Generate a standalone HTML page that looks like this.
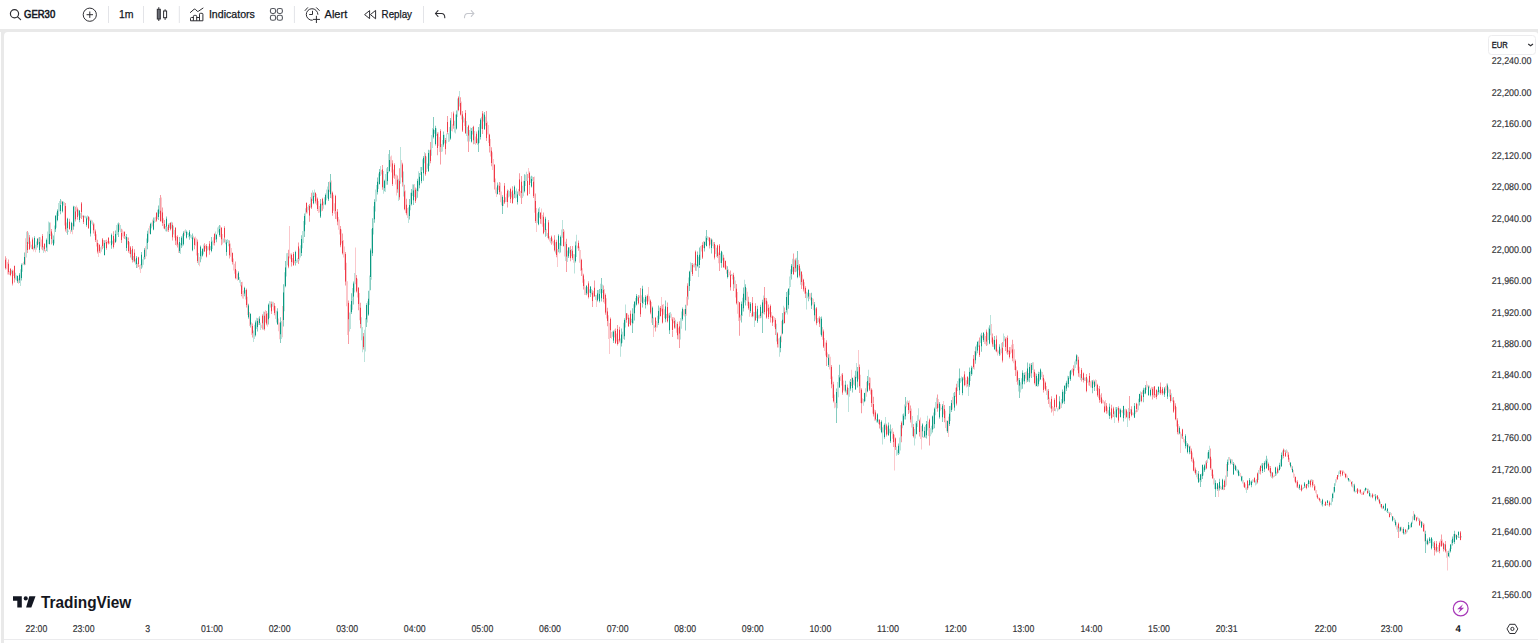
<!DOCTYPE html>
<html><head><meta charset="utf-8"><title>GER30</title>
<style>html,body{margin:0;padding:0;background:#fff;width:1538px;height:643px;overflow:hidden;font-family:"Liberation Sans",sans-serif}</style>
</head><body>
<svg width="1538" height="643" viewBox="0 0 1538 643" style="position:absolute;left:0;top:0" font-family="Liberation Sans, sans-serif">
<rect x="0" y="0" width="1538" height="643" fill="#fff"/>
<rect x="0" y="29" width="1538" height="3" fill="#e9e9e9"/>
<path d="M1 32 H8 A4 4 0 0 0 4 36 V643 H1 Z" fill="#e9e9e9"/>
<path d="M1538 32 V35 A3 3 0 0 0 1535 32 Z" fill="#e9e9e9"/>
<rect x="4" y="639" width="1534" height="1" fill="#ebebed"/>
<g>
<path d="M11 270.1h1v1.8h-1zM11 272.0h1v1.8h-1zM15 272.7h1v3.5h-1zM15 276.2h1v3.5h-1zM16 275.3h1v2.6h-1zM16 277.9h1v2.6h-1zM20 269.3h1v7.8h-1zM20 277.1h1v8.9h-1zM22 263.2h1v4.2h-1zM22 267.5h1v4.2h-1zM26 231.8h1v12.8h-1zM26 244.7h1v12.8h-1zM28 232.4h1v5.8h-1zM28 238.2h1v5.8h-1zM31 244.7h1v2.1h-1zM31 246.8h1v2.1h-1zM36 241.4h1v4.2h-1zM36 245.6h1v4.2h-1zM43 246.3h1v3.3h-1zM43 249.6h1v3.3h-1zM47 231.5h1v10.1h-1zM47 241.6h1v10.1h-1zM48 221.5h1v11.2h-1zM48 232.7h1v11.2h-1zM52 233.6h1v4.8h-1zM52 238.4h1v4.8h-1zM54 225.6h1v9.0h-1zM54 234.6h1v9.0h-1zM56 212.4h1v7.7h-1zM56 220.1h1v7.7h-1zM58 202.9h1v6.6h-1zM58 209.5h1v6.6h-1zM59 200.9h1v5.3h-1zM59 206.2h1v5.3h-1zM63 201.6h1v2.0h-1zM63 203.6h1v2.0h-1zM68 230.5h1v0.8h-1zM68 231.3h1v0.8h-1zM74 206.0h1v10.6h-1zM74 216.6h1v9.8h-1zM78 209.4h1v3.1h-1zM78 212.5h1v3.1h-1zM80 212.9h1v2.6h-1zM80 215.5h1v2.6h-1zM82 215.6h1v0.8h-1zM82 216.4h1v0.8h-1zM84 215.7h1v0.9h-1zM84 216.6h1v0.9h-1zM85 215.7h1v1.3h-1zM85 217.0h1v1.3h-1zM87 215.3h1v2.0h-1zM87 217.4h1v2.0h-1zM92 220.5h1v2.4h-1zM92 222.9h1v2.4h-1zM101 245.7h1v3.0h-1zM101 248.7h1v3.0h-1zM110 241.5h1v0.6h-1zM110 242.2h1v0.6h-1zM112 240.8h1v1.5h-1zM112 242.3h1v1.5h-1zM116 225.1h1v8.2h-1zM116 233.3h1v8.2h-1zM117 223.2h1v5.8h-1zM117 229.1h1v5.8h-1zM120 225.1h1v3.6h-1zM120 228.6h1v3.6h-1zM125 236.1h1v1.7h-1zM125 237.8h1v1.7h-1zM131 250.0h1v4.7h-1zM131 254.7h1v4.7h-1zM133 256.1h1v2.8h-1zM133 259.0h1v2.8h-1zM135 259.2h1v2.8h-1zM135 262.0h1v2.8h-1zM142 259.2h1v4.1h-1zM142 263.3h1v4.1h-1zM143 256.8h1v4.0h-1zM143 260.8h1v4.0h-1zM146 238.5h1v8.9h-1zM146 247.4h1v8.9h-1zM148 228.3h1v6.7h-1zM148 235.1h1v6.7h-1zM151 222.5h1v2.9h-1zM151 225.4h1v2.9h-1zM154 217.5h1v2.7h-1zM154 220.2h1v2.7h-1zM157 209.7h1v4.7h-1zM157 214.4h1v4.7h-1zM159 198.0h1v7.9h-1zM159 205.9h1v7.9h-1zM165 225.9h1v2.7h-1zM165 228.6h1v2.7h-1zM169 223.0h1v2.4h-1zM169 225.5h1v2.4h-1zM171 221.8h1v3.4h-1zM171 225.1h1v3.4h-1zM173 225.8h1v4.3h-1zM173 230.1h1v4.3h-1zM180 243.1h1v5.5h-1zM180 248.6h1v5.5h-1zM182 234.3h1v6.1h-1zM182 240.4h1v6.1h-1zM185 229.2h1v2.0h-1zM185 231.1h1v2.0h-1zM187 231.8h1v1.6h-1zM187 233.4h1v1.6h-1zM188 233.0h1v2.1h-1zM188 235.2h1v2.1h-1zM190 234.2h1v1.8h-1zM190 236.0h1v1.8h-1zM191 235.0h1v1.9h-1zM191 236.9h1v1.9h-1zM198 252.9h1v5.0h-1zM198 257.9h1v7.1h-1zM201 251.2h1v4.1h-1zM201 255.2h1v4.1h-1zM203 244.4h1v5.0h-1zM203 249.3h1v5.0h-1zM207 246.2h1v2.1h-1zM207 248.3h1v2.1h-1zM210 246.1h1v1.9h-1zM210 248.0h1v1.9h-1zM212 240.4h1v4.3h-1zM212 244.7h1v4.3h-1zM215 231.6h1v4.1h-1zM215 235.7h1v4.1h-1zM217 227.4h1v3.4h-1zM217 230.8h1v3.4h-1zM218 226.2h1v3.1h-1zM218 229.4h1v3.1h-1zM223 238.6h1v2.0h-1zM223 240.5h1v2.3h-1zM225 239.2h1v2.5h-1zM225 241.7h1v2.5h-1zM227 239.1h1v2.0h-1zM227 241.0h1v2.0h-1zM228 240.0h1v3.2h-1zM228 243.2h1v3.0h-1zM239 277.1h1v2.8h-1zM239 279.9h1v2.8h-1zM240 279.8h1v3.2h-1zM240 283.0h1v3.2h-1zM245 290.0h1v6.3h-1zM245 296.3h1v3.3h-1zM253 330.4h1v2.0h-1zM253 332.3h1v9.7h-1zM254 324.7h1v7.2h-1zM254 331.9h1v7.2h-1zM256 317.8h1v5.6h-1zM256 323.4h1v5.6h-1zM260 322.8h1v3.6h-1zM260 326.5h1v3.6h-1zM263 311.4h1v9.2h-1zM263 320.6h1v9.2h-1zM269 301.1h1v8.5h-1zM269 309.6h1v8.5h-1zM270 301.5h1v3.4h-1zM270 304.9h1v2.6h-1zM272 301.8h1v2.5h-1zM272 304.3h1v2.5h-1zM276 310.8h1v5.9h-1zM276 316.7h1v5.9h-1zM281 320.9h1v9.1h-1zM281 330.0h1v9.1h-1zM284 272.3h1v19.5h-1zM284 291.7h1v19.5h-1zM286 253.2h1v11.6h-1zM286 264.8h1v11.6h-1zM287 253.0h1v6.1h-1zM287 259.1h1v6.1h-1zM296 259.7h1v1.6h-1zM296 261.3h1v1.6h-1zM297 258.2h1v2.1h-1zM297 260.3h1v2.1h-1zM299 248.5h1v6.0h-1zM299 254.4h1v6.0h-1zM300 245.2h1v6.1h-1zM300 251.3h1v6.1h-1zM302 231.1h1v8.6h-1zM302 239.7h1v8.6h-1zM303 220.9h1v11.0h-1zM303 231.9h1v11.0h-1zM305 208.2h1v8.2h-1zM305 216.5h1v8.2h-1zM308 204.9h1v2.7h-1zM308 207.6h1v2.7h-1zM310 197.0h1v5.3h-1zM310 202.4h1v5.3h-1zM312 190.3h1v5.3h-1zM312 195.6h1v5.3h-1zM314 189.6h1v4.1h-1zM314 193.7h1v3.4h-1zM323 201.6h1v3.6h-1zM323 205.2h1v3.6h-1zM324 197.2h1v3.8h-1zM324 201.0h1v3.8h-1zM326 189.6h1v5.3h-1zM326 194.9h1v5.3h-1zM327 186.5h1v5.9h-1zM327 192.4h1v5.9h-1zM349 312.4h1v9.5h-1zM349 321.9h1v9.5h-1zM350 304.6h1v12.3h-1zM350 316.8h1v12.3h-1zM352 287.9h1v10.9h-1zM352 298.9h1v10.9h-1zM354 273.1h1v9.7h-1zM354 282.8h1v9.7h-1zM361 317.2h1v11.5h-1zM361 328.8h1v11.5h-1zM362 327.1h1v12.6h-1zM362 339.7h1v12.6h-1zM364 329.8h1v10.8h-1zM364 340.6h1v21.4h-1zM365 318.0h1v16.8h-1zM365 334.7h1v16.8h-1zM367 301.3h1v10.6h-1zM367 312.0h1v10.6h-1zM369 275.4h1v14.8h-1zM369 290.2h1v14.8h-1zM371 228.9h1v25.5h-1zM371 254.3h1v25.5h-1zM373 206.3h1v14.0h-1zM373 220.4h1v14.0h-1zM375 189.6h1v11.0h-1zM375 200.6h1v11.0h-1zM376 184.9h1v8.4h-1zM376 193.2h1v8.4h-1zM378 173.6h1v7.8h-1zM378 181.3h1v7.8h-1zM380 166.1h1v4.9h-1zM380 171.0h1v4.9h-1zM383 171.0h1v9.5h-1zM383 180.5h1v13.3h-1zM385 174.0h1v9.0h-1zM385 183.0h1v9.0h-1zM386 168.3h1v8.2h-1zM386 176.5h1v8.2h-1zM388 153.9h1v9.6h-1zM388 163.6h1v9.6h-1zM398 178.8h1v8.4h-1zM398 187.2h1v13.8h-1zM400 147.0h1v25.9h-1zM400 172.9h1v10.8h-1zM403 171.5h1v12.5h-1zM403 184.1h1v12.5h-1zM408 207.2h1v4.4h-1zM408 211.6h1v11.4h-1zM410 192.8h1v8.7h-1zM410 201.5h1v8.7h-1zM412 184.3h1v5.8h-1zM412 190.1h1v5.8h-1zM416 188.6h1v3.4h-1zM416 192.0h1v7.4h-1zM418 171.2h1v10.2h-1zM418 181.4h1v10.2h-1zM420 167.0h1v4.1h-1zM420 171.0h1v4.1h-1zM422 159.2h1v5.5h-1zM422 164.7h1v5.5h-1zM424 152.0h1v7.4h-1zM424 159.4h1v3.8h-1zM426 156.4h1v6.5h-1zM426 162.9h1v9.1h-1zM427 163.5h1v2.6h-1zM427 166.1h1v2.6h-1zM429 150.3h1v7.8h-1zM429 158.1h1v7.8h-1zM431 135.1h1v10.3h-1zM431 145.4h1v10.3h-1zM432 128.0h1v9.9h-1zM432 138.0h1v9.9h-1zM434 130.0h1v1.9h-1zM434 131.9h1v1.9h-1zM436 128.3h1v3.8h-1zM436 132.1h1v3.8h-1zM441 144.0h1v3.0h-1zM441 147.0h1v5.0h-1zM442 140.0h1v5.8h-1zM442 145.8h1v5.8h-1zM444 134.7h1v4.7h-1zM444 139.4h1v3.8h-1zM446 133.6h1v5.0h-1zM446 138.5h1v5.0h-1zM448 132.9h1v4.1h-1zM448 137.0h1v5.0h-1zM449 126.9h1v7.4h-1zM449 134.2h1v7.4h-1zM454 120.7h1v5.9h-1zM454 126.7h1v5.9h-1zM455 114.5h1v9.5h-1zM455 124.0h1v9.5h-1zM457 98.5h1v9.3h-1zM457 107.8h1v9.3h-1zM459 91.0h1v12.6h-1zM459 103.6h1v2.8h-1zM463 116.6h1v3.0h-1zM463 119.6h1v3.0h-1zM466 121.0h1v7.5h-1zM466 128.5h1v7.5h-1zM467 127.1h1v7.2h-1zM467 134.4h1v7.2h-1zM469 130.1h1v5.7h-1zM469 135.8h1v5.7h-1zM470 127.4h1v5.8h-1zM470 133.2h1v5.8h-1zM472 127.0h1v4.9h-1zM472 131.9h1v2.7h-1zM474 130.9h1v6.6h-1zM474 137.5h1v6.6h-1zM477 138.5h1v3.3h-1zM477 141.7h1v3.3h-1zM479 123.9h1v9.5h-1zM479 133.4h1v9.5h-1zM481 116.7h1v6.0h-1zM481 122.7h1v6.0h-1zM483 113.6h1v5.4h-1zM483 119.0h1v2.5h-1zM505 197.3h1v2.4h-1zM505 199.7h1v2.4h-1zM508 189.9h1v3.8h-1zM508 193.7h1v3.8h-1zM509 190.9h1v2.8h-1zM509 193.6h1v2.8h-1zM511 191.7h1v2.9h-1zM511 194.6h1v2.9h-1zM515 190.8h1v3.9h-1zM515 194.7h1v3.9h-1zM516 188.6h1v4.6h-1zM516 193.2h1v4.6h-1zM522 185.8h1v6.1h-1zM522 191.9h1v6.1h-1zM523 180.8h1v7.7h-1zM523 188.5h1v7.7h-1zM525 174.8h1v5.6h-1zM525 180.4h1v5.6h-1zM526 171.7h1v4.7h-1zM526 176.4h1v4.7h-1zM530 176.6h1v3.2h-1zM530 179.8h1v3.2h-1zM532 176.4h1v2.3h-1zM532 178.8h1v2.3h-1zM537 213.3h1v4.9h-1zM537 218.1h1v4.9h-1zM539 207.0h1v7.2h-1zM539 214.2h1v3.6h-1zM547 233.0h1v2.6h-1zM547 235.5h1v2.6h-1zM550 238.1h1v2.6h-1zM550 240.7h1v2.6h-1zM555 242.3h1v5.6h-1zM555 247.9h1v5.6h-1zM559 242.9h1v5.3h-1zM559 248.3h1v5.3h-1zM561 229.5h1v8.2h-1zM561 237.7h1v8.2h-1zM562 220.0h1v15.6h-1zM562 235.6h1v2.2h-1zM565 241.8h1v9.6h-1zM565 251.5h1v9.6h-1zM567 250.6h1v5.7h-1zM567 256.3h1v5.7h-1zM569 247.3h1v3.7h-1zM569 251.0h1v2.6h-1zM571 248.9h1v3.7h-1zM571 252.5h1v3.7h-1zM574 254.3h1v2.9h-1zM574 257.2h1v16.2h-1zM576 234.8h1v14.8h-1zM576 249.6h1v7.5h-1zM587 287.1h1v3.6h-1zM587 290.7h1v3.6h-1zM589 289.3h1v1.7h-1zM589 291.0h1v1.7h-1zM591 289.1h1v2.7h-1zM591 291.7h1v2.7h-1zM595 295.0h1v2.5h-1zM595 297.5h1v2.5h-1zM598 289.9h1v4.4h-1zM598 294.3h1v4.4h-1zM600 283.7h1v4.9h-1zM600 288.6h1v4.9h-1zM602 284.5h1v4.2h-1zM602 288.7h1v4.2h-1zM612 331.2h1v2.8h-1zM612 334.0h1v2.8h-1zM620 338.6h1v2.8h-1zM620 341.4h1v15.4h-1zM622 331.7h1v5.5h-1zM622 337.2h1v5.5h-1zM623 322.7h1v8.1h-1zM623 330.8h1v8.1h-1zM625 304.5h1v15.9h-1zM625 320.4h1v7.0h-1zM629 317.8h1v3.2h-1zM629 320.9h1v3.2h-1zM631 318.8h1v1.8h-1zM631 320.7h1v1.8h-1zM633 304.2h1v9.6h-1zM633 313.8h1v9.6h-1zM635 298.1h1v4.7h-1zM635 302.8h1v4.7h-1zM637 296.5h1v2.1h-1zM637 298.6h1v2.1h-1zM639 295.5h1v1.3h-1zM639 296.8h1v1.3h-1zM643 297.3h1v3.3h-1zM643 300.6h1v3.3h-1zM644 299.3h1v1.4h-1zM644 300.7h1v1.4h-1zM646 296.2h1v2.7h-1zM646 298.9h1v2.7h-1zM654 325.2h1v1.3h-1zM654 326.6h1v1.3h-1zM657 315.8h1v5.8h-1zM657 321.7h1v5.8h-1zM659 307.6h1v5.8h-1zM659 313.4h1v5.8h-1zM666 313.9h1v2.1h-1zM666 316.0h1v2.1h-1zM670 312.1h1v2.8h-1zM670 314.9h1v2.8h-1zM675 319.8h1v4.3h-1zM675 324.2h1v4.3h-1zM680 317.9h1v10.8h-1zM680 328.7h1v10.8h-1zM681 311.4h1v8.7h-1zM681 320.1h1v8.7h-1zM688 277.4h1v11.1h-1zM688 288.4h1v11.1h-1zM690 262.3h1v9.3h-1zM690 271.6h1v9.3h-1zM691 263.0h1v4.5h-1zM691 267.5h1v4.5h-1zM694 263.2h1v2.2h-1zM694 265.4h1v2.2h-1zM696 264.0h1v3.5h-1zM696 267.5h1v3.5h-1zM698 256.8h1v6.3h-1zM698 263.1h1v13.9h-1zM700 246.0h1v7.0h-1zM700 253.0h1v7.0h-1zM705 236.3h1v4.4h-1zM705 240.7h1v4.4h-1zM707 236.3h1v1.8h-1zM707 238.1h1v1.8h-1zM713 242.0h1v3.2h-1zM713 245.2h1v3.2h-1zM716 247.7h1v4.6h-1zM716 252.3h1v4.6h-1zM720 253.3h1v4.9h-1zM720 258.2h1v4.9h-1zM722 252.3h1v4.1h-1zM722 256.4h1v4.1h-1zM731 274.0h1v1.0h-1zM731 275.0h1v1.0h-1zM734 276.7h1v5.8h-1zM734 282.5h1v5.8h-1zM742 297.7h1v9.1h-1zM742 306.9h1v9.1h-1zM744 279.7h1v16.2h-1zM744 295.9h1v6.5h-1zM753 311.7h1v2.3h-1zM753 314.1h1v2.3h-1zM754 312.0h1v2.3h-1zM754 314.3h1v12.7h-1zM756 311.4h1v3.3h-1zM756 314.6h1v3.3h-1zM763 295.4h1v9.2h-1zM763 304.6h1v9.2h-1zM776 323.7h1v8.8h-1zM776 332.6h1v8.8h-1zM779 337.8h1v4.5h-1zM779 342.3h1v14.5h-1zM783 305.8h1v12.3h-1zM783 318.1h1v6.1h-1zM785 311.2h1v1.6h-1zM785 312.8h1v1.6h-1zM787 290.8h1v11.9h-1zM787 302.7h1v11.9h-1zM789 276.6h1v9.2h-1zM789 285.9h1v9.2h-1zM790 269.3h1v8.8h-1zM790 278.2h1v8.8h-1zM792 258.7h1v6.5h-1zM792 265.3h1v6.5h-1zM794 259.5h1v6.2h-1zM794 265.6h1v6.2h-1zM796 257.8h1v6.8h-1zM796 264.6h1v6.8h-1zM800 268.5h1v4.8h-1zM800 273.3h1v11.4h-1zM806 291.7h1v2.5h-1zM806 294.2h1v15.3h-1zM807 292.8h1v2.7h-1zM807 295.5h1v2.7h-1zM817 317.9h1v2.6h-1zM817 320.5h1v2.6h-1zM820 316.9h1v6.6h-1zM820 323.5h1v10.9h-1zM837 382.0h1v13.1h-1zM837 395.1h1v13.1h-1zM838 375.1h1v11.1h-1zM838 386.2h1v11.1h-1zM846 389.7h1v2.6h-1zM846 392.3h1v2.6h-1zM848 387.9h1v3.2h-1zM848 391.1h1v20.9h-1zM849 380.8h1v8.0h-1zM849 388.8h1v8.0h-1zM853 379.7h1v2.1h-1zM853 381.8h1v2.9h-1zM856 362.9h1v7.7h-1zM856 370.6h1v7.7h-1zM863 399.0h1v3.4h-1zM863 402.4h1v3.4h-1zM865 388.3h1v6.4h-1zM865 394.8h1v6.4h-1zM868 369.8h1v12.4h-1zM868 382.2h1v3.4h-1zM876 418.9h1v1.8h-1zM876 420.8h1v1.8h-1zM878 419.5h1v2.4h-1zM878 421.9h1v2.0h-1zM882 427.2h1v1.2h-1zM882 428.4h1v16.0h-1zM885 417.0h1v10.5h-1zM885 427.5h1v2.2h-1zM889 428.7h1v2.2h-1zM889 431.0h1v2.2h-1zM891 429.2h1v2.1h-1zM891 431.3h1v2.1h-1zM896 446.6h1v4.6h-1zM896 451.2h1v4.6h-1zM897 449.8h1v2.0h-1zM897 451.7h1v2.7h-1zM899 437.4h1v8.3h-1zM899 445.7h1v8.3h-1zM900 425.1h1v12.7h-1zM900 437.8h1v12.7h-1zM902 414.2h1v7.0h-1zM902 421.3h1v7.0h-1zM904 404.5h1v7.4h-1zM904 412.0h1v7.4h-1zM907 400.3h1v2.1h-1zM907 402.5h1v2.1h-1zM912 416.1h1v9.9h-1zM912 426.0h1v9.9h-1zM914 428.9h1v3.3h-1zM914 432.2h1v13.4h-1zM915 422.5h1v8.0h-1zM915 430.5h1v8.0h-1zM917 415.2h1v5.9h-1zM917 421.1h1v5.9h-1zM918 408.3h1v11.7h-1zM918 420.0h1v1.0h-1zM925 425.1h1v6.5h-1zM925 431.6h1v6.5h-1zM927 415.8h1v13.0h-1zM927 428.8h1v1.8h-1zM930 428.2h1v4.0h-1zM930 432.2h1v4.0h-1zM931 425.7h1v4.3h-1zM931 430.0h1v4.3h-1zM933 412.6h1v8.2h-1zM933 420.7h1v8.2h-1zM935 402.1h1v6.6h-1zM935 408.7h1v6.6h-1zM936 397.8h1v5.6h-1zM936 403.4h1v5.6h-1zM941 407.7h1v0.8h-1zM941 408.5h1v0.8h-1zM950 405.7h1v7.7h-1zM950 413.4h1v7.7h-1zM953 393.1h1v5.7h-1zM953 398.8h1v5.7h-1zM957 380.9h1v5.1h-1zM957 386.0h1v5.1h-1zM958 378.4h1v4.4h-1zM958 382.8h1v4.4h-1zM960 377.9h1v2.6h-1zM960 380.5h1v2.6h-1zM961 376.3h1v2.6h-1zM961 378.9h1v2.6h-1zM968 377.7h1v5.0h-1zM968 382.6h1v13.3h-1zM970 370.8h1v5.1h-1zM970 376.0h1v5.1h-1zM972 366.7h1v3.9h-1zM972 370.6h1v3.9h-1zM976 344.4h1v5.5h-1zM976 350.0h1v5.5h-1zM978 340.4h1v3.3h-1zM978 343.6h1v3.3h-1zM980 334.6h1v4.2h-1zM980 338.8h1v4.2h-1zM987 332.8h1v6.2h-1zM987 339.1h1v6.2h-1zM988 327.4h1v6.3h-1zM988 333.7h1v6.3h-1zM990 315.0h1v17.1h-1zM990 332.1h1v3.2h-1zM995 344.2h1v3.5h-1zM995 347.7h1v3.5h-1zM1001 342.9h1v5.2h-1zM1001 348.1h1v5.2h-1zM1003 333.6h1v8.8h-1zM1003 342.4h1v4.4h-1zM1004 335.9h1v2.7h-1zM1004 338.6h1v2.7h-1zM1018 378.0h1v6.8h-1zM1018 384.8h1v6.8h-1zM1020 382.3h1v5.1h-1zM1020 387.3h1v5.1h-1zM1021 378.3h1v5.6h-1zM1021 383.9h1v5.6h-1zM1023 373.0h1v4.3h-1zM1023 377.3h1v4.3h-1zM1028 372.9h1v4.3h-1zM1028 377.2h1v4.3h-1zM1032 362.2h1v5.6h-1zM1032 367.8h1v2.1h-1zM1037 378.3h1v3.1h-1zM1037 381.4h1v5.7h-1zM1039 372.1h1v4.7h-1zM1039 376.8h1v4.6h-1zM1041 371.6h1v2.8h-1zM1041 374.3h1v2.8h-1zM1047 389.5h1v5.2h-1zM1047 394.7h1v5.2h-1zM1050 401.7h1v3.4h-1zM1050 405.1h1v3.4h-1zM1055 408.6h1v1.3h-1zM1055 409.9h1v1.3h-1zM1057 408.2h1v1.6h-1zM1057 409.8h1v1.6h-1zM1061 399.0h1v4.6h-1zM1061 403.5h1v4.6h-1zM1063 391.5h1v5.4h-1zM1063 396.9h1v5.4h-1zM1065 383.2h1v5.4h-1zM1065 388.6h1v5.4h-1zM1067 375.7h1v5.5h-1zM1067 381.2h1v5.5h-1zM1069 371.5h1v3.6h-1zM1069 375.1h1v3.6h-1zM1071 369.2h1v2.6h-1zM1071 371.8h1v2.6h-1zM1074 361.5h1v4.5h-1zM1074 366.0h1v4.5h-1zM1075 359.5h1v4.3h-1zM1075 363.8h1v4.3h-1zM1080 374.1h1v3.0h-1zM1080 377.0h1v3.0h-1zM1082 377.7h1v1.2h-1zM1082 378.9h1v1.2h-1zM1084 377.5h1v1.8h-1zM1084 379.3h1v1.8h-1zM1087 378.6h1v2.1h-1zM1087 380.7h1v2.1h-1zM1108 410.3h1v2.5h-1zM1108 412.8h1v2.5h-1zM1110 412.2h1v1.7h-1zM1110 413.9h1v1.7h-1zM1114 411.2h1v3.0h-1zM1114 414.2h1v8.8h-1zM1115 407.1h1v5.0h-1zM1115 412.1h1v5.0h-1zM1117 407.4h1v1.4h-1zM1117 408.8h1v1.4h-1zM1119 408.5h1v2.6h-1zM1119 411.1h1v2.6h-1zM1124 409.2h1v3.0h-1zM1124 412.2h1v3.0h-1zM1127 411.8h1v3.6h-1zM1127 415.4h1v11.6h-1zM1128 408.0h1v5.2h-1zM1128 413.2h1v5.2h-1zM1130 408.9h1v2.4h-1zM1130 411.3h1v2.4h-1zM1133 412.8h1v1.3h-1zM1133 414.1h1v1.3h-1zM1138 398.7h1v5.8h-1zM1138 404.5h1v5.8h-1zM1140 391.3h1v5.1h-1zM1140 396.4h1v5.1h-1zM1144 387.9h1v3.0h-1zM1144 391.0h1v3.0h-1zM1157 390.7h1v2.5h-1zM1157 393.2h1v2.5h-1zM1159 390.1h1v1.6h-1zM1159 391.7h1v1.6h-1zM1169 389.3h1v3.7h-1zM1169 393.1h1v3.7h-1zM1171 393.3h1v3.8h-1zM1171 397.1h1v3.8h-1zM1181 433.8h1v2.4h-1zM1181 436.2h1v2.4h-1zM1186 441.0h1v2.8h-1zM1186 443.8h1v2.8h-1zM1196 470.1h1v3.6h-1zM1196 473.7h1v3.6h-1zM1199 478.2h1v1.8h-1zM1199 480.0h1v1.8h-1zM1201 473.6h1v4.2h-1zM1201 477.8h1v4.2h-1zM1203 467.2h1v4.1h-1zM1203 471.3h1v4.1h-1zM1205 461.3h1v4.2h-1zM1205 465.5h1v4.2h-1zM1207 452.6h1v5.2h-1zM1207 457.7h1v5.2h-1zM1209 445.8h1v10.5h-1zM1209 456.3h1v3.5h-1zM1214 478.2h1v5.4h-1zM1214 483.5h1v5.4h-1zM1220 485.7h1v1.6h-1zM1220 487.4h1v1.6h-1zM1225 475.5h1v5.7h-1zM1225 481.2h1v5.7h-1zM1228 457.0h1v4.0h-1zM1228 461.0h1v4.0h-1zM1232 459.6h1v2.7h-1zM1232 462.3h1v2.7h-1zM1236 466.6h1v2.4h-1zM1236 469.0h1v2.4h-1zM1237 469.1h1v2.1h-1zM1237 471.2h1v2.1h-1zM1239 471.8h1v2.0h-1zM1239 473.9h1v2.0h-1zM1242 476.0h1v3.8h-1zM1242 479.8h1v3.8h-1zM1246 487.4h1v0.9h-1zM1246 488.3h1v4.7h-1zM1248 484.0h1v2.1h-1zM1248 486.1h1v2.1h-1zM1250 481.2h1v1.6h-1zM1250 482.8h1v1.6h-1zM1252 479.3h1v1.8h-1zM1252 481.1h1v1.8h-1zM1255 480.5h1v2.5h-1zM1255 483.0h1v2.5h-1zM1256 479.0h1v2.5h-1zM1256 481.5h1v2.9h-1zM1258 469.9h1v5.0h-1zM1258 474.9h1v5.0h-1zM1261 463.4h1v2.3h-1zM1261 465.7h1v2.3h-1zM1265 459.6h1v2.5h-1zM1265 462.1h1v2.5h-1zM1267 458.8h1v3.8h-1zM1267 462.6h1v3.8h-1zM1271 471.4h1v3.3h-1zM1271 474.7h1v3.3h-1zM1273 475.8h1v0.8h-1zM1273 476.6h1v0.8h-1zM1276 471.8h1v1.9h-1zM1276 473.7h1v1.9h-1zM1278 468.7h1v2.1h-1zM1278 470.8h1v2.1h-1zM1280 459.3h1v4.9h-1zM1280 464.2h1v4.9h-1zM1282 450.6h1v4.5h-1zM1282 455.1h1v4.5h-1zM1284 449.4h1v1.3h-1zM1284 450.7h1v1.2h-1zM1286 449.3h1v1.9h-1zM1286 451.2h1v1.9h-1zM1302 487.7h1v1.0h-1zM1302 488.7h1v1.0h-1zM1303 487.0h1v0.9h-1zM1303 488.0h1v0.9h-1zM1307 483.6h1v1.1h-1zM1307 484.7h1v1.1h-1zM1309 481.1h1v1.4h-1zM1309 482.5h1v1.4h-1zM1311 479.0h1v1.4h-1zM1311 480.4h1v1.4h-1zM1321 500.9h1v2.2h-1zM1321 503.0h1v2.2h-1zM1324 503.9h1v0.8h-1zM1324 504.7h1v0.8h-1zM1328 504.4h1v0.4h-1zM1328 504.9h1v0.4h-1zM1330 502.7h1v1.2h-1zM1330 503.9h1v1.2h-1zM1331 498.1h1v3.6h-1zM1331 501.6h1v3.6h-1zM1333 487.1h1v5.6h-1zM1333 492.7h1v5.6h-1zM1335 479.3h1v3.3h-1zM1335 482.5h1v3.3h-1zM1338 471.4h1v2.7h-1zM1338 474.1h1v2.7h-1zM1339 470.3h1v1.9h-1zM1339 472.2h1v1.9h-1zM1349 479.0h1v1.4h-1zM1349 480.4h1v1.4h-1zM1352 481.0h1v3.3h-1zM1352 484.2h1v3.3h-1zM1355 490.8h1v0.8h-1zM1355 491.6h1v0.8h-1zM1356 489.6h1v1.2h-1zM1356 490.9h1v1.2h-1zM1364 488.9h1v2.0h-1zM1364 490.8h1v2.0h-1zM1366 488.1h1v1.0h-1zM1366 489.0h1v1.0h-1zM1368 488.7h1v2.1h-1zM1368 490.8h1v2.1h-1zM1370 493.3h1v2.1h-1zM1370 495.4h1v2.1h-1zM1371 495.2h1v0.9h-1zM1371 496.2h1v0.9h-1zM1374 494.5h1v0.9h-1zM1374 495.4h1v0.9h-1zM1378 497.0h1v2.2h-1zM1378 499.2h1v2.2h-1zM1380 501.5h1v2.9h-1zM1380 504.4h1v2.9h-1zM1384 508.7h1v1.2h-1zM1384 509.9h1v1.2h-1zM1386 510.4h1v0.8h-1zM1386 511.2h1v0.8h-1zM1388 511.6h1v1.0h-1zM1388 512.5h1v1.0h-1zM1390 512.1h1v1.5h-1zM1390 513.6h1v1.5h-1zM1394 517.9h1v2.4h-1zM1394 520.3h1v2.4h-1zM1397 525.6h1v3.2h-1zM1397 528.8h1v3.2h-1zM1399 527.3h1v2.2h-1zM1399 529.5h1v2.2h-1zM1404 532.3h1v0.6h-1zM1404 532.9h1v1.6h-1zM1406 530.2h1v1.6h-1zM1406 531.8h1v1.6h-1zM1407 528.5h1v1.9h-1zM1407 530.4h1v1.9h-1zM1409 525.3h1v1.9h-1zM1409 527.2h1v1.9h-1zM1410 523.7h1v2.0h-1zM1410 525.7h1v2.0h-1zM1412 516.2h1v3.8h-1zM1412 519.9h1v3.8h-1zM1418 517.8h1v1.7h-1zM1418 519.4h1v1.7h-1zM1426 540.5h1v1.9h-1zM1426 542.4h1v1.9h-1zM1430 539.0h1v2.1h-1zM1430 541.0h1v2.1h-1zM1432 539.1h1v3.6h-1zM1432 542.7h1v3.6h-1zM1433 541.9h1v3.0h-1zM1433 544.9h1v3.0h-1zM1437 547.1h1v2.2h-1zM1437 549.4h1v2.5h-1zM1444 543.9h1v3.1h-1zM1444 547.0h1v3.1h-1zM1449 548.5h1v4.7h-1zM1449 553.1h1v4.7h-1zM1451 539.9h1v4.5h-1zM1451 544.5h1v4.5h-1zM1453 533.9h1v4.2h-1zM1453 538.1h1v4.2h-1zM1459 536.7h1v0.6h-1zM1459 537.3h1v0.6h-1zM1461 536.1h1v0.7h-1zM1461 536.8h1v0.7h-1z" fill="#0b9a82" opacity="0.28"/>
<path d="M6 258.0h1v5.6h-1zM6 263.6h1v5.6h-1zM7 262.0h1v6.3h-1zM7 268.3h1v6.3h-1zM9 270.9h1v1.6h-1zM9 272.5h1v2.5h-1zM13 270.2h1v2.9h-1zM13 273.1h1v2.9h-1zM18 278.5h1v2.8h-1zM18 281.3h1v2.8h-1zM23 261.7h1v1.7h-1zM23 263.4h1v1.7h-1zM25 238.2h1v13.4h-1zM25 251.6h1v13.4h-1zM30 241.6h1v3.0h-1zM30 244.6h1v3.0h-1zM33 246.4h1v2.5h-1zM33 248.9h1v2.5h-1zM35 244.8h1v3.7h-1zM35 248.5h1v3.7h-1zM38 237.4h1v3.3h-1zM38 240.7h1v3.3h-1zM40 237.2h1v4.7h-1zM40 241.9h1v4.7h-1zM41 239.5h1v4.9h-1zM41 244.4h1v4.9h-1zM45 250.1h1v1.2h-1zM45 251.2h1v1.2h-1zM50 222.4h1v6.9h-1zM50 229.2h1v6.9h-1zM61 200.5h1v1.7h-1zM61 202.2h1v1.7h-1zM64 202.1h1v11.6h-1zM64 213.8h1v11.6h-1zM66 222.6h1v5.2h-1zM66 227.8h1v5.2h-1zM70 229.9h1v1.9h-1zM70 231.8h1v1.9h-1zM72 223.2h1v5.6h-1zM72 228.7h1v5.6h-1zM76 205.6h1v2.9h-1zM76 208.5h1v2.9h-1zM89 217.2h1v1.7h-1zM89 219.0h1v1.7h-1zM91 219.7h1v2.1h-1zM91 221.7h1v2.1h-1zM94 223.5h1v6.2h-1zM94 229.7h1v6.2h-1zM96 234.2h1v6.2h-1zM96 240.4h1v6.2h-1zM98 243.3h1v4.8h-1zM98 248.1h1v8.9h-1zM100 247.3h1v3.1h-1zM100 250.4h1v3.1h-1zM103 240.1h1v3.9h-1zM103 244.0h1v3.9h-1zM105 240.1h1v1.7h-1zM105 241.7h1v1.7h-1zM107 241.0h1v1.3h-1zM107 242.3h1v1.3h-1zM109 241.2h1v1.4h-1zM109 242.6h1v1.4h-1zM114 238.8h1v3.0h-1zM114 241.7h1v3.0h-1zM119 223.0h1v3.6h-1zM119 226.6h1v3.6h-1zM122 229.6h1v3.4h-1zM122 233.0h1v3.4h-1zM123 231.6h1v3.3h-1zM123 234.9h1v3.3h-1zM127 237.2h1v3.7h-1zM127 240.8h1v3.7h-1zM129 241.9h1v5.9h-1zM129 247.8h1v5.9h-1zM137 262.8h1v2.7h-1zM137 265.4h1v2.7h-1zM139 264.9h1v2.3h-1zM139 267.2h1v2.3h-1zM140 264.2h1v1.9h-1zM140 266.2h1v6.8h-1zM145 246.2h1v6.5h-1zM145 252.6h1v6.5h-1zM149 225.7h1v3.9h-1zM149 229.6h1v3.9h-1zM152 219.6h1v3.5h-1zM152 223.1h1v3.5h-1zM155 216.8h1v2.5h-1zM155 219.4h1v2.5h-1zM161 197.6h1v11.9h-1zM161 209.5h1v11.9h-1zM163 218.2h1v5.2h-1zM163 223.3h1v5.2h-1zM167 227.0h1v2.3h-1zM167 229.3h1v2.3h-1zM174 230.1h1v3.8h-1zM174 233.9h1v3.8h-1zM176 235.9h1v4.9h-1zM176 240.8h1v4.9h-1zM178 243.5h1v4.7h-1zM178 248.2h1v4.7h-1zM184 230.5h1v2.7h-1zM184 233.1h1v2.7h-1zM193 235.7h1v1.8h-1zM193 237.5h1v1.8h-1zM195 236.5h1v4.7h-1zM195 241.1h1v4.7h-1zM196 238.2h1v8.7h-1zM196 246.9h1v8.7h-1zM199 257.1h1v4.6h-1zM199 261.7h1v4.6h-1zM205 245.1h1v1.8h-1zM205 246.9h1v1.8h-1zM208 246.2h1v1.8h-1zM208 248.0h1v1.8h-1zM213 237.2h1v4.0h-1zM213 241.2h1v4.0h-1zM220 225.6h1v5.8h-1zM220 231.5h1v5.8h-1zM222 234.1h1v5.1h-1zM222 239.2h1v5.1h-1zM230 243.4h1v6.7h-1zM230 250.1h1v6.7h-1zM231 248.0h1v6.7h-1zM231 254.7h1v6.7h-1zM233 258.4h1v6.0h-1zM233 264.4h1v6.0h-1zM234 263.8h1v5.0h-1zM234 268.8h1v5.0h-1zM236 270.3h1v4.5h-1zM236 274.8h1v4.5h-1zM237 273.8h1v3.5h-1zM237 277.3h1v3.5h-1zM242 281.8h1v8.3h-1zM242 290.2h1v8.3h-1zM243 290.6h1v1.7h-1zM243 292.4h1v6.3h-1zM247 296.8h1v9.1h-1zM247 305.9h1v9.1h-1zM249 312.1h1v7.0h-1zM249 319.1h1v7.0h-1zM251 322.2h1v6.4h-1zM251 328.6h1v6.4h-1zM258 317.6h1v3.6h-1zM258 321.3h1v3.6h-1zM261 324.7h1v1.7h-1zM261 326.4h1v1.7h-1zM265 310.0h1v8.1h-1zM265 318.1h1v4.3h-1zM267 313.0h1v5.0h-1zM267 317.9h1v8.8h-1zM273 301.8h1v4.4h-1zM273 306.2h1v4.4h-1zM275 306.0h1v6.6h-1zM275 312.5h1v6.6h-1zM278 318.5h1v6.4h-1zM278 324.9h1v6.4h-1zM279 322.4h1v8.4h-1zM279 330.8h1v8.4h-1zM282 306.0h1v15.6h-1zM282 321.7h1v15.6h-1zM289 226.0h1v29.1h-1zM289 255.1h1v3.1h-1zM290 253.6h1v2.8h-1zM290 256.4h1v2.8h-1zM292 257.9h1v2.3h-1zM292 260.3h1v2.3h-1zM294 260.3h1v1.5h-1zM294 261.8h1v1.5h-1zM307 206.8h1v3.4h-1zM307 210.2h1v3.4h-1zM316 194.1h1v5.6h-1zM316 199.7h1v5.6h-1zM318 201.0h1v6.0h-1zM318 207.1h1v6.0h-1zM319 205.9h1v3.3h-1zM319 209.3h1v3.3h-1zM321 203.4h1v4.0h-1zM321 207.5h1v4.0h-1zM329 181.2h1v5.4h-1zM329 186.6h1v5.4h-1zM331 180.6h1v9.0h-1zM331 189.6h1v9.0h-1zM333 194.8h1v8.0h-1zM333 202.7h1v8.0h-1zM334 203.3h1v5.2h-1zM334 208.5h1v5.2h-1zM336 211.5h1v3.9h-1zM336 215.4h1v3.9h-1zM338 217.0h1v6.4h-1zM338 223.4h1v6.4h-1zM339 219.5h1v7.5h-1zM339 227.1h1v7.5h-1zM341 229.4h1v7.0h-1zM341 236.4h1v7.0h-1zM343 240.0h1v8.8h-1zM343 248.7h1v8.8h-1zM344 246.4h1v11.8h-1zM344 258.2h1v11.8h-1zM346 262.7h1v21.8h-1zM346 284.5h1v21.8h-1zM347 281.2h1v26.9h-1zM347 308.1h1v26.9h-1zM355 247.5h1v35.1h-1zM355 282.6h1v1.7h-1zM357 278.8h1v9.4h-1zM357 288.2h1v9.4h-1zM359 293.1h1v13.5h-1zM359 306.7h1v13.5h-1zM381 170.0h1v2.3h-1zM381 172.3h1v2.3h-1zM390 156.6h1v5.1h-1zM390 161.7h1v5.1h-1zM391 155.4h1v8.5h-1zM391 163.9h1v8.5h-1zM393 169.5h1v4.1h-1zM393 173.6h1v4.1h-1zM395 174.5h1v5.0h-1zM395 179.5h1v5.0h-1zM396 174.6h1v10.4h-1zM396 185.0h1v10.4h-1zM401 160.0h1v12.1h-1zM401 172.1h1v5.3h-1zM405 190.4h1v11.3h-1zM405 201.7h1v11.3h-1zM407 208.0h1v5.0h-1zM407 213.0h1v5.0h-1zM414 184.1h1v6.5h-1zM414 190.5h1v6.5h-1zM438 132.3h1v6.9h-1zM438 139.2h1v6.9h-1zM439 137.0h1v7.5h-1zM439 144.6h1v7.5h-1zM451 112.0h1v16.2h-1zM451 128.2h1v2.8h-1zM452 124.2h1v3.7h-1zM452 127.9h1v3.7h-1zM461 101.4h1v9.1h-1zM461 110.5h1v9.1h-1zM464 118.2h1v3.9h-1zM464 122.1h1v3.9h-1zM475 136.5h1v4.3h-1zM475 140.8h1v4.3h-1zM485 116.7h1v4.5h-1zM485 121.2h1v4.5h-1zM487 121.6h1v6.4h-1zM487 128.0h1v6.4h-1zM488 125.1h1v8.9h-1zM488 134.0h1v8.9h-1zM490 138.9h1v8.8h-1zM490 147.8h1v8.8h-1zM492 152.3h1v8.9h-1zM492 161.2h1v8.9h-1zM493 159.1h1v11.5h-1zM493 170.6h1v11.5h-1zM495 178.6h1v7.5h-1zM495 186.1h1v7.5h-1zM496 187.5h1v1.4h-1zM496 188.9h1v8.1h-1zM498 184.4h1v2.8h-1zM498 187.3h1v2.8h-1zM500 182.8h1v9.7h-1zM500 192.5h1v9.7h-1zM501 191.6h1v6.8h-1zM501 198.4h1v6.8h-1zM503 200.1h1v3.0h-1zM503 203.1h1v3.0h-1zM506 193.4h1v4.3h-1zM506 197.7h1v4.3h-1zM513 193.8h1v2.7h-1zM513 196.6h1v2.7h-1zM518 188.9h1v2.9h-1zM518 191.8h1v2.9h-1zM520 191.1h1v3.3h-1zM520 194.4h1v3.3h-1zM528 168.0h1v6.9h-1zM528 174.9h1v3.2h-1zM534 176.5h1v18.1h-1zM534 194.6h1v18.1h-1zM536 208.0h1v8.4h-1zM536 216.4h1v15.6h-1zM541 208.6h1v7.8h-1zM541 216.4h1v7.8h-1zM542 215.1h1v5.8h-1zM542 220.9h1v5.8h-1zM544 223.2h1v4.4h-1zM544 227.5h1v4.4h-1zM546 228.9h1v3.6h-1zM546 232.5h1v3.6h-1zM549 236.3h1v2.6h-1zM549 238.9h1v2.6h-1zM552 238.6h1v2.4h-1zM552 241.0h1v2.4h-1zM553 241.0h1v2.3h-1zM553 243.3h1v2.3h-1zM557 248.9h1v2.1h-1zM557 251.0h1v16.0h-1zM564 230.5h1v13.0h-1zM564 243.6h1v13.0h-1zM573 253.9h1v4.5h-1zM573 258.3h1v4.5h-1zM577 245.7h1v1.4h-1zM577 247.1h1v1.4h-1zM579 246.6h1v8.1h-1zM579 254.6h1v8.1h-1zM580 250.1h1v10.5h-1zM580 260.6h1v10.5h-1zM582 268.2h1v7.3h-1zM582 275.5h1v7.3h-1zM584 279.2h1v7.9h-1zM584 287.1h1v7.9h-1zM585 287.3h1v3.9h-1zM585 291.2h1v3.9h-1zM593 291.1h1v3.1h-1zM593 294.1h1v3.1h-1zM596 295.0h1v2.9h-1zM596 297.9h1v9.1h-1zM604 289.0h1v7.4h-1zM604 296.4h1v7.4h-1zM606 298.3h1v10.1h-1zM606 308.3h1v10.1h-1zM608 315.3h1v11.8h-1zM608 327.1h1v11.8h-1zM609 323.1h1v8.0h-1zM609 331.1h1v22.9h-1zM611 332.1h1v3.3h-1zM611 335.4h1v3.3h-1zM614 329.5h1v3.9h-1zM614 333.5h1v3.9h-1zM616 333.4h1v4.0h-1zM616 337.5h1v4.0h-1zM618 339.0h1v2.6h-1zM618 341.5h1v2.6h-1zM627 313.2h1v2.9h-1zM627 316.1h1v2.9h-1zM641 295.3h1v3.2h-1zM641 298.5h1v3.2h-1zM648 287.0h1v12.5h-1zM648 299.5h1v1.9h-1zM649 296.2h1v4.3h-1zM649 300.5h1v4.3h-1zM651 302.1h1v10.3h-1zM651 312.4h1v10.3h-1zM653 317.4h1v5.1h-1zM653 322.5h1v14.5h-1zM656 321.0h1v3.4h-1zM656 324.4h1v3.4h-1zM661 297.0h1v11.3h-1zM661 308.3h1v3.1h-1zM663 303.9h1v5.4h-1zM663 309.3h1v5.4h-1zM664 309.2h1v4.5h-1zM664 313.6h1v4.5h-1zM668 313.6h1v2.2h-1zM668 315.8h1v2.2h-1zM671 313.8h1v3.4h-1zM671 317.2h1v3.4h-1zM673 317.0h1v3.1h-1zM673 320.2h1v3.1h-1zM676 323.4h1v4.7h-1zM676 328.1h1v4.7h-1zM678 327.8h1v5.9h-1zM678 333.7h1v5.9h-1zM683 309.5h1v3.9h-1zM683 313.4h1v2.2h-1zM684 309.0h1v3.8h-1zM684 312.8h1v3.8h-1zM686 296.7h1v9.5h-1zM686 306.2h1v9.5h-1zM693 264.1h1v1.6h-1zM693 265.6h1v1.6h-1zM701 245.2h1v3.2h-1zM701 248.4h1v3.2h-1zM703 241.1h1v3.4h-1zM703 244.5h1v3.4h-1zM708 236.8h1v2.3h-1zM708 239.0h1v2.3h-1zM710 238.2h1v3.2h-1zM710 241.4h1v3.2h-1zM712 239.5h1v3.3h-1zM712 242.7h1v3.3h-1zM715 244.9h1v4.5h-1zM715 249.4h1v4.5h-1zM718 252.6h1v5.3h-1zM718 257.9h1v5.3h-1zM724 257.8h1v5.0h-1zM724 262.8h1v5.0h-1zM726 265.6h1v4.1h-1zM726 269.7h1v4.1h-1zM728 269.2h1v3.9h-1zM728 273.2h1v3.9h-1zM729 271.8h1v1.7h-1zM729 273.5h1v1.7h-1zM732 274.2h1v2.6h-1zM732 276.8h1v2.6h-1zM735 280.6h1v8.5h-1zM735 289.1h1v8.5h-1zM737 291.9h1v10.9h-1zM737 302.8h1v10.9h-1zM738 301.0h1v9.9h-1zM738 311.0h1v9.9h-1zM740 314.8h1v2.9h-1zM740 317.7h1v2.9h-1zM746 288.0h1v6.4h-1zM746 294.4h1v6.4h-1zM747 291.7h1v7.0h-1zM747 298.7h1v7.0h-1zM749 302.3h1v7.2h-1zM749 309.5h1v7.2h-1zM751 313.3h1v1.9h-1zM751 315.2h1v1.9h-1zM758 315.2h1v1.6h-1zM758 316.8h1v1.6h-1zM759 314.6h1v2.0h-1zM759 316.6h1v2.0h-1zM761 311.8h1v3.0h-1zM761 314.8h1v3.0h-1zM765 297.7h1v3.3h-1zM765 301.0h1v3.3h-1zM767 301.5h1v4.9h-1zM767 306.4h1v4.9h-1zM769 307.3h1v3.5h-1zM769 310.8h1v3.5h-1zM771 312.0h1v3.0h-1zM771 315.0h1v3.0h-1zM773 315.9h1v2.9h-1zM773 318.9h1v2.9h-1zM774 316.9h1v5.2h-1zM774 322.1h1v5.2h-1zM778 338.4h1v4.6h-1zM778 343.0h1v4.6h-1zM781 320.9h1v10.6h-1zM781 331.6h1v10.6h-1zM798 260.0h1v5.1h-1zM798 265.1h1v5.1h-1zM802 274.4h1v5.5h-1zM802 279.9h1v5.5h-1zM804 282.3h1v5.7h-1zM804 288.0h1v5.7h-1zM809 292.9h1v3.1h-1zM809 296.0h1v3.1h-1zM810 293.2h1v3.5h-1zM810 296.7h1v3.5h-1zM812 297.9h1v3.2h-1zM812 301.2h1v3.2h-1zM813 298.7h1v5.8h-1zM813 304.5h1v5.8h-1zM815 308.3h1v5.5h-1zM815 313.9h1v5.5h-1zM818 317.5h1v1.9h-1zM818 319.3h1v2.7h-1zM822 326.9h1v6.4h-1zM822 333.3h1v6.4h-1zM824 337.9h1v6.6h-1zM824 344.5h1v6.6h-1zM825 342.5h1v6.5h-1zM825 349.0h1v6.5h-1zM827 352.6h1v2.7h-1zM827 355.3h1v2.7h-1zM829 354.2h1v7.7h-1zM829 361.9h1v7.7h-1zM830 356.7h1v11.2h-1zM830 367.9h1v11.2h-1zM832 376.6h1v10.7h-1zM832 387.4h1v10.7h-1zM834 394.6h1v6.8h-1zM834 401.4h1v6.8h-1zM835 402.6h1v2.4h-1zM835 405.1h1v2.4h-1zM840 375.9h1v2.5h-1zM840 378.4h1v2.5h-1zM841 373.8h1v5.8h-1zM841 379.6h1v5.8h-1zM843 380.6h1v4.9h-1zM843 385.5h1v4.9h-1zM844 384.8h1v3.3h-1zM844 388.1h1v3.3h-1zM851 369.8h1v14.2h-1zM851 384.0h1v1.9h-1zM854 375.4h1v5.1h-1zM854 380.6h1v5.1h-1zM858 349.9h1v21.1h-1zM858 371.0h1v8.3h-1zM860 374.7h1v14.1h-1zM860 388.8h1v14.1h-1zM862 398.3h1v2.5h-1zM862 400.8h1v2.5h-1zM866 381.9h1v7.4h-1zM866 389.3h1v7.4h-1zM870 377.8h1v8.3h-1zM870 386.1h1v8.5h-1zM872 389.8h1v11.9h-1zM872 401.7h1v11.9h-1zM874 409.5h1v5.6h-1zM874 415.1h1v5.6h-1zM880 421.9h1v4.2h-1zM880 426.1h1v4.2h-1zM883 425.3h1v3.6h-1zM883 428.9h1v3.6h-1zM887 426.5h1v3.9h-1zM887 430.4h1v3.9h-1zM892 428.1h1v5.3h-1zM892 433.4h1v5.3h-1zM894 434.8h1v7.1h-1zM894 441.9h1v28.6h-1zM906 401.4h1v2.9h-1zM906 404.3h1v2.9h-1zM909 400.3h1v6.2h-1zM909 406.5h1v6.2h-1zM911 408.6h1v9.4h-1zM911 418.0h1v9.4h-1zM920 417.6h1v10.7h-1zM920 428.3h1v10.7h-1zM921 426.1h1v6.3h-1zM921 432.4h1v17.0h-1zM923 436.6h1v0.7h-1zM923 437.3h1v0.7h-1zM928 421.7h1v7.1h-1zM928 428.8h1v7.1h-1zM938 399.0h1v4.6h-1zM938 403.5h1v4.6h-1zM940 404.1h1v3.3h-1zM940 407.4h1v3.3h-1zM943 400.9h1v10.0h-1zM943 410.9h1v3.6h-1zM945 410.8h1v8.6h-1zM945 419.4h1v8.6h-1zM946 420.6h1v5.3h-1zM946 425.9h1v5.3h-1zM948 416.7h1v6.9h-1zM948 423.7h1v13.3h-1zM952 396.9h1v6.2h-1zM952 403.2h1v6.2h-1zM955 387.8h1v4.6h-1zM955 392.4h1v4.6h-1zM963 376.5h1v1.9h-1zM963 378.4h1v1.9h-1zM965 377.4h1v4.0h-1zM965 381.3h1v4.0h-1zM966 380.2h1v3.7h-1zM966 383.8h1v3.7h-1zM974 351.1h1v9.3h-1zM974 360.4h1v9.3h-1zM982 335.2h1v1.5h-1zM982 336.7h1v1.5h-1zM984 334.1h1v5.0h-1zM984 339.1h1v5.0h-1zM985 335.9h1v4.3h-1zM985 340.2h1v4.3h-1zM991 324.0h1v9.2h-1zM991 333.2h1v9.2h-1zM993 339.4h1v3.9h-1zM993 343.2h1v3.9h-1zM997 349.4h1v3.0h-1zM997 352.4h1v3.0h-1zM998 350.5h1v1.4h-1zM998 351.9h1v1.4h-1zM1000 348.7h1v3.3h-1zM1000 351.9h1v3.3h-1zM1006 337.0h1v8.2h-1zM1006 345.2h1v8.2h-1zM1008 350.0h1v2.1h-1zM1008 352.2h1v2.1h-1zM1010 346.9h1v3.7h-1zM1010 350.6h1v3.7h-1zM1011 344.7h1v4.1h-1zM1011 348.7h1v4.1h-1zM1013 344.0h1v9.6h-1zM1013 353.6h1v9.6h-1zM1014 349.2h1v10.4h-1zM1014 359.6h1v10.4h-1zM1016 366.4h1v7.8h-1zM1016 374.3h1v7.8h-1zM1025 372.1h1v3.7h-1zM1025 375.8h1v2.6h-1zM1026 371.2h1v5.8h-1zM1026 377.0h1v5.8h-1zM1030 363.6h1v6.4h-1zM1030 370.1h1v6.4h-1zM1033 362.2h1v7.4h-1zM1033 369.6h1v7.4h-1zM1035 373.3h1v6.6h-1zM1035 379.9h1v6.6h-1zM1042 372.0h1v4.2h-1zM1042 376.2h1v4.2h-1zM1044 379.2h1v4.8h-1zM1044 384.0h1v4.8h-1zM1046 386.1h1v4.5h-1zM1046 390.6h1v4.5h-1zM1049 397.4h1v5.0h-1zM1049 402.3h1v5.0h-1zM1052 406.1h1v2.6h-1zM1052 408.7h1v2.6h-1zM1053 407.2h1v1.9h-1zM1053 409.1h1v6.6h-1zM1058 406.6h1v1.9h-1zM1058 408.4h1v1.9h-1zM1060 402.4h1v3.2h-1zM1060 405.6h1v3.2h-1zM1072 367.9h1v2.3h-1zM1072 370.2h1v2.3h-1zM1077 355.0h1v10.0h-1zM1077 365.0h1v5.3h-1zM1079 366.8h1v5.4h-1zM1079 372.2h1v5.4h-1zM1085 377.5h1v1.7h-1zM1085 379.2h1v1.7h-1zM1088 380.6h1v2.4h-1zM1088 383.0h1v2.4h-1zM1090 381.3h1v3.1h-1zM1090 384.4h1v3.1h-1zM1091 380.2h1v3.6h-1zM1091 383.8h1v3.6h-1zM1093 379.6h1v2.5h-1zM1093 382.1h1v2.4h-1zM1095 379.2h1v3.4h-1zM1095 382.6h1v3.4h-1zM1096 379.9h1v5.6h-1zM1096 385.4h1v5.6h-1zM1098 387.9h1v5.2h-1zM1098 393.1h1v5.2h-1zM1100 394.7h1v3.6h-1zM1100 398.3h1v3.6h-1zM1102 399.6h1v1.8h-1zM1102 401.4h1v1.8h-1zM1103 400.1h1v1.7h-1zM1103 401.8h1v1.7h-1zM1105 400.1h1v5.3h-1zM1105 405.4h1v5.3h-1zM1107 407.2h1v3.1h-1zM1107 410.3h1v3.1h-1zM1112 414.4h1v1.5h-1zM1112 416.0h1v1.5h-1zM1121 410.4h1v1.0h-1zM1121 411.3h1v1.0h-1zM1122 409.9h1v1.7h-1zM1122 411.6h1v1.7h-1zM1125 408.5h1v5.1h-1zM1125 413.6h1v5.1h-1zM1132 412.3h1v1.4h-1zM1132 413.7h1v1.4h-1zM1135 410.5h1v1.6h-1zM1135 412.2h1v1.6h-1zM1137 403.7h1v4.2h-1zM1137 407.9h1v4.2h-1zM1142 390.6h1v1.7h-1zM1142 392.3h1v1.7h-1zM1146 381.0h1v5.8h-1zM1146 386.8h1v3.2h-1zM1147 384.6h1v1.3h-1zM1147 385.9h1v1.3h-1zM1149 385.4h1v1.4h-1zM1149 386.8h1v1.4h-1zM1151 386.7h1v1.4h-1zM1151 388.0h1v1.4h-1zM1153 386.8h1v5.2h-1zM1153 392.0h1v5.2h-1zM1155 394.0h1v1.6h-1zM1155 395.6h1v1.6h-1zM1161 390.0h1v1.7h-1zM1161 391.7h1v1.7h-1zM1163 391.2h1v1.1h-1zM1163 392.3h1v1.1h-1zM1165 385.9h1v3.5h-1zM1165 389.5h1v3.5h-1zM1166 383.6h1v5.5h-1zM1166 389.1h1v1.2h-1zM1168 387.3h1v2.7h-1zM1168 390.0h1v2.7h-1zM1172 397.4h1v2.1h-1zM1172 399.6h1v2.1h-1zM1174 400.6h1v4.4h-1zM1174 405.0h1v4.4h-1zM1176 407.0h1v9.7h-1zM1176 416.7h1v9.7h-1zM1178 424.0h1v5.4h-1zM1178 429.4h1v5.4h-1zM1180 431.7h1v2.5h-1zM1180 434.2h1v18.8h-1zM1183 437.2h1v2.5h-1zM1183 439.8h1v2.5h-1zM1184 439.0h1v2.3h-1zM1184 441.3h1v2.3h-1zM1188 443.9h1v1.8h-1zM1188 445.7h1v1.8h-1zM1190 445.8h1v4.1h-1zM1190 449.9h1v4.1h-1zM1192 452.6h1v5.1h-1zM1192 457.7h1v5.1h-1zM1194 461.2h1v5.8h-1zM1194 466.9h1v5.8h-1zM1197 473.3h1v3.0h-1zM1197 476.3h1v3.0h-1zM1211 458.8h1v8.6h-1zM1211 467.4h1v8.6h-1zM1213 474.6h1v4.9h-1zM1213 479.5h1v4.9h-1zM1216 487.4h1v0.5h-1zM1216 488.0h1v0.5h-1zM1218 485.5h1v2.0h-1zM1218 487.6h1v9.4h-1zM1221 486.8h1v1.6h-1zM1221 488.4h1v1.6h-1zM1223 485.0h1v2.6h-1zM1223 487.7h1v2.6h-1zM1226 464.1h1v10.7h-1zM1226 474.8h1v10.7h-1zM1229 457.0h1v2.6h-1zM1229 459.6h1v0.8h-1zM1231 459.0h1v2.5h-1zM1231 461.5h1v2.5h-1zM1234 463.3h1v2.8h-1zM1234 466.1h1v2.8h-1zM1240 473.1h1v2.0h-1zM1240 475.1h1v2.0h-1zM1243 479.9h1v3.4h-1zM1243 483.3h1v3.4h-1zM1245 484.3h1v2.7h-1zM1245 487.0h1v2.7h-1zM1253 479.4h1v1.4h-1zM1253 480.8h1v0.9h-1zM1259 467.7h1v3.2h-1zM1259 470.9h1v3.2h-1zM1263 463.3h1v1.0h-1zM1263 464.3h1v1.0h-1zM1269 465.8h1v3.3h-1zM1269 469.0h1v3.3h-1zM1274 474.7h1v1.1h-1zM1274 475.8h1v1.1h-1zM1287 450.6h1v3.2h-1zM1287 453.8h1v3.2h-1zM1289 457.8h1v3.6h-1zM1289 461.5h1v3.6h-1zM1291 465.0h1v2.5h-1zM1291 467.5h1v2.5h-1zM1293 470.1h1v3.8h-1zM1293 473.9h1v3.8h-1zM1294 473.8h1v3.9h-1zM1294 477.7h1v3.9h-1zM1296 480.8h1v3.3h-1zM1296 484.1h1v3.3h-1zM1298 486.8h1v1.0h-1zM1298 487.8h1v1.0h-1zM1300 488.5h1v0.8h-1zM1300 489.3h1v0.8h-1zM1305 485.6h1v1.1h-1zM1305 486.6h1v1.1h-1zM1313 479.9h1v3.0h-1zM1313 482.9h1v3.0h-1zM1315 485.7h1v3.8h-1zM1315 489.5h1v3.8h-1zM1316 490.1h1v3.6h-1zM1316 493.7h1v3.6h-1zM1318 497.3h1v1.2h-1zM1318 498.5h1v1.2h-1zM1320 498.9h1v2.0h-1zM1320 500.9h1v2.0h-1zM1326 504.0h1v0.4h-1zM1326 504.4h1v0.4h-1zM1336 476.9h1v2.8h-1zM1336 479.7h1v2.8h-1zM1341 470.4h1v0.7h-1zM1341 471.1h1v0.7h-1zM1343 470.5h1v1.3h-1zM1343 471.8h1v1.3h-1zM1344 471.8h1v1.4h-1zM1344 473.3h1v1.4h-1zM1346 473.8h1v1.9h-1zM1346 475.8h1v1.9h-1zM1347 475.6h1v2.0h-1zM1347 477.6h1v2.0h-1zM1350 479.8h1v1.0h-1zM1350 480.8h1v1.0h-1zM1353 483.9h1v3.8h-1zM1353 487.7h1v3.8h-1zM1358 489.7h1v0.9h-1zM1358 490.5h1v0.9h-1zM1359 489.4h1v1.7h-1zM1359 491.1h1v1.7h-1zM1361 492.3h1v1.3h-1zM1361 493.7h1v1.3h-1zM1362 492.5h1v1.2h-1zM1362 493.7h1v1.2h-1zM1373 494.8h1v0.7h-1zM1373 495.5h1v0.7h-1zM1376 495.7h1v1.2h-1zM1376 496.9h1v1.2h-1zM1382 506.4h1v1.4h-1zM1382 507.8h1v1.4h-1zM1391 513.0h1v1.8h-1zM1391 514.8h1v1.8h-1zM1393 516.4h1v1.8h-1zM1393 518.2h1v1.8h-1zM1396 522.3h1v3.5h-1zM1396 525.9h1v3.5h-1zM1401 526.8h1v1.9h-1zM1401 528.7h1v1.9h-1zM1402 528.7h1v2.2h-1zM1402 530.9h1v2.2h-1zM1413 511.0h1v6.2h-1zM1413 517.2h1v2.6h-1zM1415 515.0h1v1.3h-1zM1415 516.3h1v1.3h-1zM1417 516.5h1v1.4h-1zM1417 517.9h1v1.4h-1zM1420 520.0h1v1.7h-1zM1420 521.6h1v1.7h-1zM1422 521.8h1v1.8h-1zM1422 523.6h1v1.8h-1zM1424 523.7h1v8.9h-1zM1424 532.6h1v8.9h-1zM1428 541.2h1v1.6h-1zM1428 542.8h1v1.6h-1zM1435 547.1h1v2.2h-1zM1435 549.3h1v2.2h-1zM1438 544.9h1v3.5h-1zM1438 548.4h1v3.5h-1zM1440 539.2h1v3.7h-1zM1440 542.9h1v3.7h-1zM1442 539.4h1v3.0h-1zM1442 542.4h1v3.0h-1zM1446 549.2h1v4.3h-1zM1446 553.5h1v4.3h-1zM1447 551.0h1v3.9h-1zM1447 554.9h1v15.6h-1zM1455 533.9h1v1.8h-1zM1455 535.7h1v1.8h-1zM1457 536.1h1v0.6h-1zM1457 536.7h1v0.6h-1z" fill="#f03a48" opacity="0.28"/>
<path d="M17 275.4h1v0.8h-1zM17 281.6h1v1.3h-1zM19 272.9h1v1.5h-1zM19 280.5h1v2.5h-1zM21 263.6h1v1.4h-1zM21 278.2h1v2.4h-1zM24 252.5h1v4.6h-1zM24 264.3h1v0.9h-1zM34 236.3h1v1.6h-1zM34 248.2h1v1.4h-1zM37 238.0h1v1.0h-1zM37 245.3h1v2.2h-1zM39 237.0h1v4.9h-1zM39 249.9h1v2.8h-1zM46 238.4h1v1.3h-1zM46 247.8h1v3.2h-1zM49 222.6h1v11.1h-1zM49 244.0h1v0.5h-1zM53 235.4h1v4.1h-1zM53 245.2h1v0.6h-1zM55 215.0h1v1.0h-1zM55 229.1h1v2.8h-1zM57 209.2h1v1.3h-1zM57 219.9h1v1.4h-1zM60 199.0h1v5.8h-1zM60 210.9h1v3.3h-1zM62 201.0h1v0.7h-1zM62 211.4h1v1.0h-1zM67 217.7h1v0.9h-1zM67 228.7h1v6.1h-1zM71 221.7h1v1.1h-1zM71 230.2h1v1.6h-1zM73 205.8h1v0.6h-1zM73 226.3h1v3.5h-1zM79 210.0h1v0.4h-1zM79 220.1h1v2.1h-1zM86 216.6h1v1.7h-1zM86 225.0h1v1.8h-1zM90 219.7h1v1.4h-1zM90 233.7h1v2.7h-1zM104 240.2h1v2.6h-1zM104 255.1h1v0.4h-1zM111 233.4h1v1.4h-1zM111 245.4h1v3.4h-1zM115 230.6h1v3.2h-1zM115 242.0h1v1.0h-1zM118 222.6h1v1.7h-1zM118 232.1h1v5.0h-1zM126 233.9h1v3.0h-1zM126 248.0h1v2.9h-1zM136 256.0h1v1.4h-1zM136 264.0h1v4.0h-1zM141 252.0h1v2.9h-1zM141 265.5h1v3.3h-1zM144 248.0h1v1.6h-1zM144 257.2h1v2.4h-1zM147 230.7h1v2.8h-1zM147 242.9h1v6.3h-1zM150 222.8h1v1.3h-1zM150 233.9h1v0.7h-1zM153 217.4h1v3.2h-1zM153 229.9h1v0.4h-1zM158 205.4h1v3.8h-1zM158 217.4h1v2.5h-1zM166 216.5h1v2.0h-1zM166 226.7h1v4.8h-1zM179 237.1h1v4.8h-1zM179 251.0h1v2.0h-1zM181 236.2h1v1.2h-1zM181 245.6h1v2.3h-1zM183 231.2h1v1.1h-1zM183 244.4h1v1.0h-1zM186 230.4h1v1.3h-1zM186 237.8h1v0.7h-1zM189 229.9h1v1.5h-1zM189 236.6h1v3.1h-1zM192 233.4h1v3.8h-1zM192 250.4h1v0.8h-1zM200 245.5h1v0.9h-1zM200 256.5h1v5.8h-1zM202 248.3h1v0.6h-1zM202 255.7h1v0.8h-1zM211 237.0h1v4.4h-1zM211 251.4h1v0.8h-1zM216 234.1h1v0.6h-1zM216 239.6h1v2.6h-1zM219 225.0h1v4.1h-1zM219 235.2h1v1.6h-1zM226 239.8h1v2.5h-1zM226 252.0h1v3.8h-1zM238 271.2h1v1.3h-1zM238 279.7h1v0.3h-1zM244 286.7h1v1.0h-1zM244 293.7h1v2.5h-1zM248 303.7h1v1.5h-1zM248 317.5h1v1.2h-1zM250 313.3h1v0.6h-1zM250 324.7h1v2.7h-1zM255 320.5h1v1.8h-1zM255 335.4h1v1.2h-1zM257 318.3h1v2.7h-1zM257 327.3h1v4.3h-1zM259 316.3h1v2.2h-1zM259 323.2h1v1.9h-1zM268 303.4h1v1.0h-1zM268 319.4h1v5.1h-1zM277 308.2h1v3.0h-1zM277 324.2h1v0.7h-1zM280 317.2h1v5.0h-1zM280 334.5h1v8.5h-1zM283 284.2h1v8.0h-1zM283 319.9h1v6.5h-1zM285 261.1h1v6.1h-1zM285 286.3h1v0.9h-1zM295 250.8h1v0.8h-1zM295 260.8h1v4.8h-1zM301 235.2h1v3.7h-1zM301 253.1h1v2.8h-1zM304 213.5h1v2.6h-1zM304 231.5h1v5.4h-1zM313 192.6h1v3.3h-1zM313 203.4h1v0.9h-1zM320 199.0h1v4.5h-1zM320 216.8h1v1.1h-1zM325 193.5h1v1.4h-1zM325 204.5h1v0.7h-1zM328 182.1h1v7.5h-1zM328 199.4h1v1.7h-1zM330 174.0h1v8.2h-1zM330 194.5h1v3.4h-1zM351 293.3h1v7.8h-1zM351 312.7h1v1.3h-1zM353 281.4h1v1.7h-1zM353 296.7h1v7.8h-1zM366 303.2h1v1.4h-1zM366 319.3h1v7.7h-1zM368 290.7h1v7.8h-1zM368 314.8h1v0.9h-1zM370 248.4h1v2.0h-1zM370 277.2h1v13.1h-1zM372 218.3h1v9.6h-1zM372 253.4h1v2.7h-1zM374 199.3h1v2.6h-1zM374 219.4h1v3.4h-1zM377 177.6h1v3.9h-1zM377 192.3h1v2.3h-1zM379 169.0h1v2.7h-1zM379 183.8h1v0.7h-1zM384 179.7h1v1.0h-1zM384 188.3h1v3.0h-1zM387 167.1h1v4.8h-1zM387 181.2h1v3.5h-1zM389 150.0h1v9.9h-1zM389 170.9h1v0.9h-1zM409 199.0h1v5.9h-1zM409 215.9h1v3.7h-1zM411 188.9h1v3.5h-1zM411 204.4h1v1.1h-1zM413 184.5h1v5.8h-1zM413 200.4h1v4.5h-1zM417 178.7h1v2.1h-1zM417 191.0h1v6.8h-1zM419 172.9h1v3.7h-1zM419 185.6h1v2.7h-1zM421 167.1h1v4.9h-1zM421 181.3h1v1.9h-1zM423 155.9h1v1.5h-1zM423 173.4h1v7.4h-1zM428 149.8h1v3.3h-1zM428 170.9h1v1.2h-1zM433 117.0h1v12.3h-1zM433 137.7h1v0.9h-1zM435 125.8h1v2.1h-1zM435 143.9h1v1.7h-1zM443 131.5h1v3.3h-1zM443 144.8h1v2.0h-1zM450 118.0h1v2.3h-1zM450 138.7h1v1.1h-1zM456 110.5h1v3.7h-1zM456 128.7h1v0.8h-1zM471 127.9h1v3.1h-1zM471 141.7h1v0.9h-1zM478 126.9h1v3.4h-1zM478 143.9h1v8.1h-1zM480 118.3h1v1.2h-1zM480 137.0h1v2.5h-1zM484 112.1h1v2.3h-1zM484 128.9h1v1.0h-1zM497 182.6h1v2.6h-1zM497 194.0h1v0.6h-1zM502 195.2h1v1.8h-1zM502 205.8h1v8.2h-1zM514 185.6h1v0.9h-1zM514 194.6h1v3.4h-1zM517 191.6h1v2.7h-1zM517 202.3h1v2.2h-1zM524 174.3h1v6.7h-1zM524 191.6h1v0.8h-1zM531 175.7h1v3.3h-1zM531 186.9h1v0.5h-1zM538 208.5h1v3.2h-1zM538 224.4h1v0.9h-1zM545 216.8h1v1.7h-1zM545 230.3h1v6.5h-1zM558 234.2h1v1.3h-1zM558 249.2h1v3.0h-1zM560 235.6h1v1.2h-1zM560 245.7h1v6.8h-1zM568 247.0h1v0.5h-1zM568 256.5h1v1.6h-1zM575 241.4h1v3.8h-1zM575 261.3h1v1.1h-1zM586 285.0h1v1.1h-1zM586 293.5h1v1.7h-1zM590 285.9h1v0.6h-1zM590 293.2h1v3.7h-1zM597 290.0h1v3.3h-1zM597 300.4h1v1.2h-1zM599 289.1h1v4.6h-1zM599 301.2h1v1.4h-1zM601 278.0h1v11.1h-1zM601 298.6h1v3.0h-1zM613 330.6h1v0.9h-1zM613 340.7h1v2.4h-1zM621 328.4h1v5.7h-1zM621 343.3h1v3.2h-1zM624 318.3h1v1.7h-1zM624 336.5h1v3.3h-1zM632 308.3h1v5.1h-1zM632 323.5h1v9.5h-1zM634 301.0h1v0.9h-1zM634 313.6h1v6.8h-1zM636 293.9h1v1.9h-1zM636 304.8h1v0.7h-1zM642 285.8h1v2.7h-1zM642 302.9h1v4.6h-1zM645 295.3h1v1.5h-1zM645 304.9h1v3.6h-1zM652 306.6h1v1.0h-1zM652 318.6h1v6.5h-1zM658 305.5h1v5.3h-1zM658 323.3h1v1.8h-1zM665 300.6h1v5.7h-1zM665 319.5h1v2.7h-1zM669 312.8h1v2.5h-1zM669 330.5h1v3.5h-1zM682 307.6h1v1.4h-1zM682 319.7h1v1.1h-1zM685 304.7h1v4.3h-1zM685 314.1h1v16.5h-1zM689 270.7h1v0.9h-1zM689 285.9h1v5.0h-1zM697 251.5h1v3.2h-1zM697 266.1h1v1.1h-1zM699 247.5h1v7.1h-1zM699 265.2h1v2.8h-1zM704 241.5h1v0.6h-1zM704 248.6h1v2.8h-1zM706 230.0h1v7.7h-1zM711 238.5h1v1.1h-1zM711 248.0h1v5.6h-1zM721 250.7h1v0.6h-1zM721 262.9h1v4.8h-1zM727 266.3h1v3.4h-1zM727 276.9h1v1.5h-1zM741 301.5h1v2.3h-1zM741 315.4h1v7.2h-1zM743 287.5h1v6.0h-1zM743 308.5h1v3.0h-1zM745 284.3h1v2.5h-1zM745 300.2h1v5.4h-1zM750 302.0h1v1.4h-1zM750 311.3h1v1.8h-1zM757 305.8h1v3.0h-1zM757 321.6h1v1.5h-1zM760 304.7h1v2.0h-1zM760 315.9h1v2.4h-1zM762 299.8h1v2.6h-1zM762 313.7h1v19.3h-1zM780 335.4h1v1.1h-1zM780 347.9h1v4.4h-1zM782 312.9h1v6.6h-1zM782 333.3h1v0.9h-1zM786 292.1h1v4.8h-1zM786 309.9h1v2.5h-1zM788 288.3h1v0.5h-1zM788 305.3h1v3.5h-1zM791 263.9h1v1.5h-1zM791 274.1h1v5.4h-1zM797 251.0h1v13.9h-1zM797 277.2h1v1.1h-1zM808 289.2h1v0.8h-1zM808 296.7h1v4.5h-1zM811 292.8h1v4.5h-1zM811 305.8h1v3.3h-1zM814 302.1h1v2.2h-1zM814 315.5h1v5.8h-1zM821 316.6h1v2.0h-1zM821 335.5h1v1.2h-1zM828 354.2h1v3.2h-1zM828 365.3h1v1.8h-1zM836 388.6h1v3.5h-1zM836 403.3h1v19.7h-1zM839 364.8h1v12.4h-1zM839 387.5h1v0.5h-1zM845 380.7h1v3.7h-1zM845 390.7h1v1.8h-1zM850 379.1h1v2.7h-1zM850 388.7h1v2.1h-1zM852 377.5h1v0.6h-1zM852 388.1h1v4.5h-1zM855 370.8h1v6.0h-1zM855 389.4h1v0.7h-1zM857 366.9h1v4.4h-1zM857 381.6h1v5.9h-1zM864 392.7h1v0.4h-1zM864 401.1h1v1.1h-1zM867 376.0h1v4.7h-1zM867 391.5h1v0.8h-1zM877 413.3h1v0.9h-1zM877 421.7h1v1.1h-1zM881 420.2h1v1.2h-1zM881 432.3h1v0.9h-1zM884 423.5h1v1.2h-1zM884 437.1h1v1.7h-1zM888 422.5h1v2.7h-1zM888 435.0h1v1.1h-1zM890 424.4h1v6.9h-1zM890 441.5h1v1.4h-1zM898 443.4h1v2.1h-1zM898 453.0h1v2.0h-1zM903 413.4h1v2.2h-1zM905 397.0h1v9.2h-1zM905 416.6h1v2.8h-1zM916 421.0h1v2.2h-1zM922 423.2h1v0.9h-1zM922 431.5h1v5.8h-1zM924 426.8h1v4.3h-1zM924 436.7h1v0.8h-1zM926 421.1h1v2.9h-1zM926 435.4h1v3.0h-1zM932 415.6h1v0.7h-1zM932 429.7h1v2.8h-1zM934 407.5h1v0.9h-1zM934 424.3h1v4.0h-1zM939 402.1h1v1.5h-1zM939 417.5h1v1.2h-1zM942 403.9h1v1.5h-1zM942 417.5h1v4.4h-1zM947 420.4h1v0.7h-1zM947 431.6h1v1.5h-1zM949 406.1h1v7.4h-1zM949 424.0h1v2.0h-1zM951 399.9h1v3.2h-1zM951 410.0h1v2.0h-1zM954 392.1h1v3.7h-1zM954 407.7h1v3.0h-1zM959 368.5h1v9.8h-1zM959 390.5h1v4.4h-1zM962 377.1h1v1.3h-1zM962 392.9h1v2.4h-1zM969 367.5h1v4.5h-1zM969 385.5h1v1.5h-1zM971 365.7h1v1.8h-1zM971 373.9h1v2.2h-1zM975 346.6h1v4.7h-1zM975 360.5h1v3.2h-1zM977 341.3h1v0.8h-1zM977 350.8h1v2.4h-1zM981 332.7h1v2.7h-1zM981 346.5h1v5.2h-1zM983 340.7h1v1.3h-1zM989 325.3h1v3.3h-1zM989 343.9h1v0.4h-1zM994 336.1h1v3.9h-1zM994 349.0h1v0.9h-1zM999 344.2h1v2.2h-1zM999 354.4h1v1.5h-1zM1019 378.1h1v1.5h-1zM1019 385.7h1v12.3h-1zM1022 370.3h1v2.2h-1zM1022 384.4h1v4.3h-1zM1024 372.4h1v2.6h-1zM1024 381.1h1v3.1h-1zM1027 362.6h1v5.5h-1zM1027 380.5h1v1.6h-1zM1029 363.6h1v3.4h-1zM1029 378.2h1v4.0h-1zM1031 363.0h1v2.0h-1zM1031 373.4h1v4.6h-1zM1036 373.7h1v2.0h-1zM1036 386.0h1v0.3h-1zM1038 371.8h1v2.2h-1zM1038 384.6h1v1.7h-1zM1040 368.5h1v1.2h-1zM1040 379.5h1v0.5h-1zM1059 396.3h1v5.0h-1zM1059 409.0h1v0.6h-1zM1062 389.5h1v2.3h-1zM1062 403.0h1v1.3h-1zM1064 385.2h1v0.9h-1zM1064 401.4h1v2.5h-1zM1066 380.7h1v2.2h-1zM1066 388.9h1v2.1h-1zM1068 376.0h1v1.4h-1zM1068 384.1h1v3.5h-1zM1070 370.1h1v0.4h-1zM1070 379.6h1v1.4h-1zM1076 354.2h1v1.1h-1zM1076 361.4h1v3.2h-1zM1092 379.9h1v1.3h-1zM1092 388.1h1v5.2h-1zM1094 380.4h1v1.1h-1zM1094 387.0h1v4.1h-1zM1109 403.4h1v3.1h-1zM1109 416.0h1v2.9h-1zM1116 407.0h1v2.2h-1zM1120 408.6h1v0.9h-1zM1120 417.0h1v0.5h-1zM1123 405.7h1v0.4h-1zM1123 417.9h1v3.6h-1zM1134 403.1h1v2.7h-1zM1134 417.8h1v0.3h-1zM1139 393.7h1v0.4h-1zM1139 402.3h1v3.3h-1zM1143 387.8h1v1.6h-1zM1143 396.9h1v5.4h-1zM1145 385.0h1v2.1h-1zM1145 393.6h1v0.7h-1zM1148 385.5h1v1.0h-1zM1148 395.2h1v0.6h-1zM1150 388.4h1v1.5h-1zM1150 395.6h1v0.9h-1zM1158 386.3h1v0.6h-1zM1158 392.3h1v2.4h-1zM1164 386.9h1v1.4h-1zM1164 394.7h1v2.3h-1zM1167 383.6h1v1.7h-1zM1167 396.8h1v2.3h-1zM1179 426.3h1v1.5h-1zM1179 433.6h1v0.7h-1zM1185 434.2h1v1.6h-1zM1185 445.9h1v2.6h-1zM1187 443.1h1v1.4h-1zM1187 452.3h1v1.2h-1zM1189 445.7h1v0.9h-1zM1189 452.5h1v1.8h-1zM1198 471.1h1v2.5h-1zM1198 482.4h1v0.3h-1zM1200 473.9h1v0.4h-1zM1200 480.3h1v6.7h-1zM1202 464.5h1v0.4h-1zM1202 476.3h1v2.7h-1zM1204 464.2h1v1.1h-1zM1204 470.6h1v1.3h-1zM1208 449.9h1v2.2h-1zM1208 458.2h1v0.8h-1zM1215 480.3h1v2.6h-1zM1215 489.4h1v7.6h-1zM1217 482.9h1v0.4h-1zM1217 488.9h1v1.9h-1zM1219 478.8h1v3.3h-1zM1219 488.4h1v2.2h-1zM1222 478.7h1v0.7h-1zM1222 489.0h1v1.1h-1zM1227 459.6h1v2.2h-1zM1227 471.2h1v5.5h-1zM1230 458.8h1v1.5h-1zM1230 463.2h1v1.3h-1zM1233 462.1h1v2.0h-1zM1233 474.6h1v0.3h-1zM1235 464.8h1v0.8h-1zM1238 469.7h1v0.9h-1zM1238 475.8h1v0.5h-1zM1241 475.7h1v0.7h-1zM1241 480.8h1v0.6h-1zM1249 477.9h1v1.9h-1zM1249 485.1h1v0.6h-1zM1251 480.4h1v1.2h-1zM1251 485.1h1v2.1h-1zM1262 462.9h1v2.4h-1zM1262 470.8h1v2.1h-1zM1264 461.2h1v1.6h-1zM1264 469.1h1v2.8h-1zM1266 455.8h1v4.8h-1zM1266 467.9h1v1.0h-1zM1275 466.7h1v0.5h-1zM1275 473.8h1v2.2h-1zM1279 462.7h1v2.5h-1zM1279 470.1h1v0.4h-1zM1281 452.4h1v2.6h-1zM1281 466.4h1v0.3h-1zM1290 462.1h1v0.7h-1zM1290 466.6h1v0.8h-1zM1292 466.2h1v2.6h-1zM1292 472.4h1v0.4h-1zM1299 484.1h1v0.7h-1zM1299 487.9h1v1.9h-1zM1304 482.0h1v1.3h-1zM1304 486.6h1v1.4h-1zM1308 479.8h1v0.4h-1zM1308 484.4h1v3.1h-1zM1322 498.7h1v0.7h-1zM1322 504.6h1v1.9h-1zM1327 500.0h1v0.5h-1zM1327 503.2h1v2.1h-1zM1332 492.7h1v1.0h-1zM1332 498.3h1v3.5h-1zM1334 483.2h1v3.7h-1zM1334 491.8h1v1.0h-1zM1348 480.6h1v0.9h-1zM1354 483.7h1v1.6h-1zM1354 490.9h1v1.3h-1zM1365 487.6h1v0.3h-1zM1365 490.6h1v0.7h-1zM1369 490.4h1v2.4h-1zM1369 496.2h1v0.3h-1zM1375 494.1h1v2.1h-1zM1375 499.8h1v1.4h-1zM1383 504.7h1v1.1h-1zM1383 508.1h1v0.9h-1zM1385 502.9h1v1.0h-1zM1385 510.0h1v0.8h-1zM1387 508.2h1v0.3h-1zM1387 511.0h1v1.9h-1zM1392 520.7h1v0.7h-1zM1395 519.8h1v1.6h-1zM1395 524.9h1v1.6h-1zM1400 526.7h1v0.6h-1zM1400 530.7h1v0.7h-1zM1403 527.3h1v1.6h-1zM1403 533.6h1v0.8h-1zM1408 521.9h1v3.1h-1zM1408 529.1h1v0.8h-1zM1411 521.7h1v1.0h-1zM1411 526.9h1v0.7h-1zM1414 513.7h1v0.9h-1zM1414 520.0h1v0.5h-1zM1421 520.9h1v0.9h-1zM1421 527.6h1v0.3h-1zM1425 530.7h1v3.0h-1zM1425 541.3h1v11.7h-1zM1427 538.4h1v1.8h-1zM1427 543.9h1v1.4h-1zM1429 537.1h1v1.2h-1zM1429 541.4h1v1.8h-1zM1431 536.9h1v0.8h-1zM1431 548.1h1v1.3h-1zM1448 550.8h1v1.9h-1zM1448 556.3h1v0.4h-1zM1450 544.0h1v0.9h-1zM1450 551.5h1v1.0h-1zM1452 536.6h1v1.8h-1zM1452 543.1h1v2.4h-1zM1454 530.7h1v3.0h-1zM1454 541.9h1v2.0h-1zM1456 534.4h1v0.6h-1zM1456 539.6h1v0.5h-1zM1458 531.3h1v0.7h-1zM1458 535.4h1v2.7h-1z" fill="#0b9a82" opacity="0.5"/>
<path d="M5 256.3h1v3.3h-1zM5 268.3h1v1.2h-1zM8 259.4h1v4.2h-1zM8 272.2h1v2.2h-1zM10 267.9h1v1.3h-1zM10 275.0h1v1.3h-1zM12 269.6h1v1.5h-1zM12 283.7h1v1.7h-1zM14 265.3h1v0.5h-1zM14 278.4h1v4.2h-1zM27 231.0h1v10.8h-1zM27 250.0h1v3.1h-1zM29 234.9h1v2.3h-1zM29 249.1h1v0.9h-1zM32 237.4h1v1.9h-1zM32 248.9h1v0.7h-1zM42 234.1h1v1.9h-1zM42 247.6h1v2.7h-1zM44 243.3h1v0.5h-1zM44 249.6h1v1.6h-1zM51 228.9h1v2.4h-1zM51 239.1h1v5.4h-1zM65 202.9h1v3.1h-1zM65 229.1h1v2.5h-1zM69 218.7h1v2.9h-1zM69 229.0h1v0.8h-1zM75 206.7h1v4.6h-1zM75 219.4h1v2.0h-1zM77 207.4h1v1.8h-1zM77 217.0h1v2.7h-1zM81 202.0h1v1.3h-1zM81 211.9h1v7.0h-1zM83 215.2h1v0.6h-1zM83 222.0h1v2.1h-1zM88 215.9h1v0.9h-1zM88 227.9h1v1.2h-1zM93 222.6h1v1.6h-1zM93 230.4h1v3.2h-1zM95 229.5h1v1.8h-1zM95 240.1h1v1.8h-1zM97 239.8h1v3.3h-1zM97 251.8h1v1.6h-1zM99 244.3h1v0.4h-1zM99 251.1h1v1.9h-1zM102 238.0h1v1.2h-1zM102 246.2h1v3.0h-1zM106 239.7h1v2.1h-1zM106 248.0h1v1.8h-1zM108 236.9h1v1.2h-1zM108 243.5h1v1.1h-1zM113 231.2h1v4.7h-1zM113 247.1h1v1.4h-1zM121 228.7h1v4.2h-1zM121 240.2h1v2.7h-1zM124 231.3h1v0.7h-1zM124 236.0h1v3.0h-1zM128 237.4h1v3.4h-1zM128 251.0h1v1.8h-1zM130 246.1h1v1.1h-1zM130 254.2h1v3.3h-1zM132 245.9h1v2.5h-1zM132 260.0h1v2.6h-1zM134 249.2h1v3.3h-1zM134 261.6h1v1.0h-1zM138 256.7h1v0.7h-1zM138 264.1h1v3.0h-1zM156 212.1h1v0.8h-1zM156 220.9h1v0.8h-1zM160 195.0h1v15.5h-1zM160 221.0h1v0.8h-1zM162 207.6h1v4.6h-1zM162 223.1h1v2.9h-1zM164 220.1h1v3.8h-1zM164 228.7h1v0.6h-1zM168 223.6h1v1.5h-1zM168 229.9h1v2.1h-1zM170 222.2h1v0.6h-1zM170 229.4h1v1.1h-1zM172 222.4h1v2.3h-1zM172 237.5h1v3.1h-1zM175 227.0h1v1.1h-1zM175 240.7h1v4.4h-1zM177 235.2h1v1.6h-1zM177 244.9h1v2.6h-1zM194 237.6h1v1.0h-1zM194 245.1h1v4.1h-1zM197 239.4h1v2.2h-1zM197 261.1h1v1.8h-1zM204 243.2h1v2.6h-1zM204 251.6h1v0.5h-1zM206 244.1h1v2.0h-1zM206 256.7h1v0.8h-1zM209 241.0h1v2.5h-1zM209 250.7h1v4.0h-1zM214 233.1h1v0.7h-1zM214 243.1h1v2.5h-1zM221 227.0h1v1.2h-1zM221 239.6h1v5.7h-1zM224 226.3h1v1.6h-1zM224 237.7h1v4.9h-1zM229 240.6h1v2.9h-1zM229 255.5h1v2.9h-1zM232 252.6h1v0.3h-1zM232 261.9h1v2.7h-1zM235 261.5h1v7.6h-1zM235 278.0h1v1.2h-1zM241 281.9h1v3.3h-1zM241 294.2h1v2.0h-1zM246 288.6h1v1.1h-1zM246 304.9h1v2.6h-1zM252 323.4h1v2.6h-1zM252 333.6h1v4.0h-1zM262 314.2h1v1.2h-1zM262 323.4h1v6.1h-1zM264 311.8h1v3.6h-1zM264 329.2h1v1.2h-1zM266 311.1h1v2.5h-1zM266 323.8h1v1.5h-1zM271 301.4h1v2.4h-1zM271 311.6h1v2.5h-1zM274 303.1h1v2.8h-1zM274 313.0h1v2.2h-1zM288 249.7h1v6.6h-1zM288 266.7h1v1.5h-1zM291 253.4h1v1.8h-1zM291 262.1h1v4.3h-1zM293 252.1h1v1.6h-1zM293 265.0h1v1.0h-1zM298 242.6h1v3.6h-1zM298 259.2h1v4.7h-1zM306 202.4h1v0.4h-1zM306 212.2h1v1.4h-1zM309 204.1h1v1.9h-1zM309 215.8h1v6.0h-1zM311 192.8h1v5.7h-1zM311 207.9h1v1.2h-1zM315 192.3h1v0.8h-1zM315 201.4h1v2.0h-1zM317 197.6h1v0.8h-1zM317 209.2h1v1.8h-1zM322 197.7h1v1.2h-1zM322 205.5h1v5.2h-1zM332 191.4h1v1.1h-1zM332 212.9h1v2.8h-1zM335 194.7h1v1.3h-1zM335 210.9h1v8.2h-1zM337 209.0h1v2.4h-1zM337 221.8h1v3.5h-1zM340 226.0h1v2.8h-1zM340 245.5h1v1.7h-1zM342 233.6h1v7.1h-1zM342 253.4h1v1.0h-1zM345 252.1h1v1.7h-1zM345 281.8h1v3.6h-1zM348 300.4h1v2.3h-1zM348 319.5h1v24.5h-1zM356 275.0h1v2.7h-1zM356 291.3h1v1.1h-1zM358 287.0h1v0.7h-1zM358 303.9h1v6.4h-1zM360 302.8h1v4.6h-1zM360 324.1h1v4.2h-1zM363 333.0h1v3.4h-1zM363 347.0h1v2.4h-1zM382 165.0h1v4.2h-1zM382 187.4h1v2.3h-1zM392 160.3h1v3.0h-1zM392 184.3h1v1.6h-1zM394 163.2h1v1.6h-1zM394 175.8h1v3.0h-1zM397 175.6h1v3.9h-1zM397 189.4h1v3.4h-1zM399 168.3h1v12.1h-1zM399 197.5h1v2.3h-1zM402 162.7h1v1.5h-1zM402 182.4h1v4.1h-1zM404 184.8h1v6.4h-1zM404 209.3h1v0.9h-1zM406 198.7h1v5.8h-1zM406 213.4h1v1.8h-1zM415 187.6h1v2.0h-1zM415 201.2h1v1.8h-1zM425 153.2h1v2.6h-1zM425 174.4h1v1.4h-1zM430 142.1h1v7.3h-1zM430 160.9h1v2.3h-1zM437 132.3h1v1.4h-1zM437 148.4h1v6.8h-1zM440 129.3h1v1.8h-1zM440 147.2h1v17.4h-1zM445 137.9h1v1.7h-1zM445 148.9h1v5.7h-1zM447 115.9h1v6.1h-1zM447 132.3h1v1.9h-1zM453 111.4h1v1.9h-1zM453 125.8h1v2.9h-1zM458 96.3h1v1.4h-1zM458 109.9h1v1.3h-1zM460 97.3h1v5.6h-1zM460 114.7h1v0.7h-1zM462 111.1h1v3.2h-1zM462 130.8h1v1.2h-1zM465 110.0h1v2.8h-1zM465 133.0h1v1.1h-1zM468 124.8h1v0.6h-1zM468 135.7h1v16.3h-1zM473 125.8h1v0.6h-1zM473 140.5h1v3.7h-1zM476 131.5h1v1.9h-1zM476 142.9h1v0.6h-1zM482 111.1h1v2.2h-1zM482 129.4h1v4.7h-1zM486 111.0h1v12.0h-1zM486 138.3h1v2.8h-1zM489 133.7h1v0.7h-1zM489 146.0h1v6.5h-1zM491 147.3h1v3.1h-1zM491 163.0h1v3.3h-1zM494 164.1h1v1.0h-1zM494 182.5h1v6.9h-1zM499 182.0h1v3.8h-1zM499 192.0h1v2.8h-1zM504 183.1h1v2.5h-1zM504 202.8h1v1.2h-1zM507 189.4h1v1.3h-1zM507 202.0h1v5.6h-1zM510 187.8h1v0.8h-1zM510 198.9h1v4.2h-1zM512 186.3h1v4.0h-1zM512 203.1h1v0.7h-1zM519 173.3h1v6.0h-1zM519 191.4h1v4.5h-1zM521 176.0h1v5.6h-1zM521 193.0h1v11.0h-1zM527 173.9h1v6.8h-1zM527 194.9h1v1.2h-1zM529 171.6h1v1.1h-1zM529 185.1h1v8.8h-1zM533 177.0h1v4.6h-1zM533 196.3h1v1.6h-1zM535 193.6h1v7.3h-1zM535 220.8h1v2.2h-1zM540 212.1h1v0.9h-1zM540 218.9h1v4.8h-1zM543 212.6h1v4.0h-1zM543 233.4h1v0.8h-1zM548 220.1h1v2.1h-1zM548 238.6h1v0.9h-1zM551 235.4h1v1.0h-1zM551 241.4h1v3.4h-1zM554 235.3h1v4.3h-1zM554 250.6h1v0.8h-1zM556 239.7h1v2.0h-1zM556 254.8h1v2.4h-1zM563 229.1h1v2.8h-1zM563 246.0h1v0.5h-1zM566 238.7h1v5.3h-1zM566 256.8h1v15.2h-1zM570 246.0h1v4.1h-1zM570 258.2h1v3.1h-1zM572 245.9h1v4.6h-1zM572 258.1h1v1.7h-1zM578 240.6h1v2.2h-1zM578 248.2h1v2.5h-1zM581 258.8h1v1.0h-1zM581 270.5h1v5.6h-1zM583 273.8h1v1.5h-1zM583 286.0h1v3.5h-1zM588 281.3h1v1.9h-1zM588 297.2h1v1.2h-1zM592 290.2h1v2.2h-1zM592 301.2h1v5.7h-1zM594 280.5h1v7.1h-1zM594 295.9h1v1.2h-1zM603 285.6h1v4.2h-1zM603 299.0h1v3.2h-1zM605 293.4h1v1.5h-1zM605 312.7h1v2.1h-1zM607 307.8h1v3.5h-1zM607 321.0h1v5.2h-1zM610 317.4h1v1.4h-1zM610 330.5h1v7.5h-1zM615 328.6h1v2.1h-1zM617 325.0h1v3.9h-1zM617 344.0h1v1.6h-1zM619 326.8h1v2.7h-1zM619 340.7h1v1.7h-1zM626 313.0h1v0.4h-1zM626 320.1h1v2.6h-1zM628 314.8h1v2.7h-1zM628 326.5h1v0.3h-1zM630 310.6h1v2.9h-1zM630 325.1h1v0.7h-1zM638 295.1h1v2.2h-1zM638 303.5h1v1.0h-1zM640 288.0h1v15.1h-1zM640 314.1h1v2.8h-1zM647 294.5h1v1.4h-1zM647 304.0h1v1.3h-1zM650 299.4h1v1.1h-1zM650 312.8h1v1.4h-1zM655 316.9h1v0.9h-1zM655 327.2h1v4.4h-1zM660 306.0h1v2.1h-1zM660 316.2h1v0.5h-1zM662 304.8h1v3.7h-1zM662 322.8h1v0.7h-1zM667 302.4h1v4.7h-1zM667 321.5h1v1.0h-1zM672 317.3h1v1.9h-1zM672 330.2h1v6.7h-1zM674 317.8h1v3.1h-1zM674 327.7h1v1.0h-1zM677 321.8h1v2.2h-1zM677 335.5h1v3.7h-1zM679 321.2h1v5.1h-1zM679 333.7h1v14.3h-1zM687 283.3h1v2.2h-1zM687 296.8h1v8.7h-1zM692 262.9h1v2.0h-1zM692 273.9h1v2.0h-1zM695 250.5h1v0.9h-1zM695 265.6h1v5.2h-1zM702 242.2h1v2.9h-1zM702 257.7h1v1.3h-1zM709 236.9h1v0.9h-1zM709 245.7h1v2.8h-1zM714 242.0h1v1.9h-1zM714 257.7h1v1.7h-1zM717 244.7h1v0.5h-1zM717 256.0h1v1.7h-1zM719 243.9h1v1.8h-1zM719 255.0h1v16.0h-1zM723 254.7h1v2.8h-1zM723 267.0h1v1.0h-1zM725 260.5h1v0.6h-1zM725 268.9h1v1.0h-1zM730 270.5h1v4.2h-1zM730 287.6h1v2.8h-1zM733 272.8h1v1.9h-1zM733 284.5h1v6.4h-1zM736 284.1h1v4.4h-1zM736 303.4h1v1.0h-1zM739 301.9h1v0.4h-1zM739 317.8h1v17.9h-1zM748 296.8h1v4.6h-1zM748 308.6h1v1.2h-1zM752 297.0h1v5.7h-1zM752 315.9h1v1.4h-1zM755 303.2h1v2.7h-1zM755 320.4h1v0.3h-1zM764 287.0h1v10.9h-1zM764 312.1h1v2.3h-1zM766 298.0h1v2.4h-1zM766 317.8h1v0.9h-1zM768 304.5h1v3.3h-1zM768 317.0h1v2.0h-1zM770 304.6h1v1.5h-1zM770 317.5h1v4.9h-1zM772 315.5h1v0.7h-1zM772 322.6h1v3.3h-1zM775 318.2h1v1.4h-1zM775 329.2h1v5.7h-1zM777 332.2h1v1.0h-1zM777 344.4h1v3.1h-1zM784 307.5h1v4.3h-1zM784 322.9h1v0.5h-1zM793 253.6h1v13.4h-1zM793 273.9h1v1.1h-1zM795 258.6h1v1.7h-1zM795 268.4h1v3.8h-1zM799 264.0h1v1.4h-1zM799 275.8h1v1.7h-1zM801 270.9h1v1.1h-1zM801 282.1h1v6.9h-1zM803 278.8h1v0.8h-1zM803 289.3h1v2.3h-1zM805 286.3h1v1.6h-1zM805 293.7h1v4.2h-1zM816 307.0h1v1.3h-1zM816 323.6h1v1.6h-1zM819 316.2h1v2.0h-1zM819 323.7h1v3.2h-1zM823 329.5h1v1.7h-1zM823 346.8h1v1.1h-1zM826 340.3h1v2.2h-1zM826 357.2h1v8.8h-1zM831 365.1h1v1.7h-1zM831 384.4h1v3.9h-1zM833 381.8h1v2.5h-1zM833 401.5h1v0.9h-1zM842 373.0h1v1.4h-1zM842 392.8h1v2.0h-1zM847 384.5h1v2.7h-1zM847 394.5h1v0.8h-1zM859 364.5h1v2.5h-1zM859 386.6h1v6.4h-1zM861 388.3h1v1.1h-1zM861 403.4h1v9.9h-1zM869 377.2h1v5.8h-1zM869 389.8h1v1.1h-1zM871 388.3h1v1.1h-1zM871 402.9h1v4.2h-1zM873 396.8h1v7.0h-1zM873 414.6h1v2.0h-1zM875 410.3h1v1.9h-1zM875 419.5h1v1.0h-1zM879 419.1h1v0.7h-1zM879 424.8h1v3.8h-1zM886 423.8h1v1.4h-1zM886 434.6h1v1.9h-1zM893 431.7h1v2.3h-1zM893 442.3h1v4.7h-1zM895 437.6h1v0.7h-1zM895 447.2h1v2.8h-1zM901 421.2h1v1.2h-1zM901 436.5h1v5.7h-1zM908 401.6h1v1.2h-1zM908 410.2h1v3.8h-1zM910 405.6h1v5.1h-1zM910 419.8h1v2.7h-1zM913 424.1h1v2.8h-1zM913 436.5h1v1.0h-1zM919 419.4h1v1.2h-1zM919 432.0h1v4.6h-1zM929 418.4h1v1.1h-1zM929 427.9h1v17.7h-1zM937 394.6h1v8.8h-1zM937 408.4h1v3.3h-1zM944 404.9h1v4.2h-1zM944 418.3h1v4.0h-1zM956 383.8h1v3.5h-1zM956 403.8h1v1.7h-1zM964 371.3h1v3.1h-1zM964 385.2h1v1.1h-1zM967 376.3h1v0.4h-1zM967 383.9h1v2.7h-1zM973 354.9h1v3.5h-1zM973 367.0h1v1.8h-1zM979 337.6h1v7.7h-1zM979 355.2h1v1.8h-1zM986 329.6h1v1.8h-1zM986 341.8h1v4.1h-1zM992 333.5h1v3.7h-1zM992 344.4h1v2.4h-1zM996 335.6h1v3.6h-1zM996 351.6h1v0.6h-1zM1002 342.1h1v5.4h-1zM1002 360.8h1v1.6h-1zM1005 337.5h1v1.2h-1zM1005 346.9h1v4.0h-1zM1007 335.6h1v2.2h-1zM1007 352.1h1v2.6h-1zM1009 347.1h1v3.8h-1zM1009 356.9h1v1.5h-1zM1012 339.8h1v9.5h-1zM1012 358.6h1v2.7h-1zM1015 359.6h1v1.1h-1zM1015 370.7h1v5.3h-1zM1017 369.9h1v1.3h-1zM1017 380.7h1v4.1h-1zM1034 369.4h1v2.5h-1zM1034 383.0h1v1.4h-1zM1043 374.8h1v2.9h-1zM1043 389.9h1v2.6h-1zM1045 381.5h1v0.9h-1zM1045 389.7h1v1.4h-1zM1048 389.1h1v1.6h-1zM1048 399.0h1v4.9h-1zM1051 396.3h1v2.5h-1zM1051 408.6h1v3.9h-1zM1054 398.3h1v1.4h-1zM1054 407.5h1v3.6h-1zM1056 394.2h1v0.9h-1zM1056 407.1h1v1.3h-1zM1073 365.2h1v3.5h-1zM1073 375.6h1v0.7h-1zM1078 356.8h1v3.1h-1zM1078 373.4h1v3.3h-1zM1081 368.1h1v1.7h-1zM1081 378.2h1v3.2h-1zM1083 372.4h1v0.9h-1zM1083 380.0h1v2.4h-1zM1086 374.1h1v2.8h-1zM1086 390.9h1v1.3h-1zM1089 373.0h1v3.1h-1zM1089 382.6h1v3.2h-1zM1097 383.8h1v1.1h-1zM1097 395.4h1v1.3h-1zM1099 386.0h1v2.7h-1zM1099 399.9h1v2.8h-1zM1101 393.2h1v4.1h-1zM1101 403.1h1v0.8h-1zM1104 401.6h1v4.6h-1zM1104 411.9h1v0.9h-1zM1106 402.9h1v2.5h-1zM1106 411.6h1v2.1h-1zM1111 404.8h1v3.4h-1zM1111 418.0h1v1.4h-1zM1113 406.8h1v1.4h-1zM1113 414.3h1v2.8h-1zM1118 406.3h1v1.7h-1zM1118 420.8h1v1.9h-1zM1126 409.0h1v1.2h-1zM1126 417.1h1v0.6h-1zM1129 396.0h1v16.1h-1zM1129 417.9h1v2.7h-1zM1131 406.3h1v3.0h-1zM1131 415.4h1v1.1h-1zM1136 402.7h1v0.9h-1zM1136 409.4h1v2.9h-1zM1141 392.3h1v2.9h-1zM1141 401.0h1v1.2h-1zM1152 387.2h1v1.6h-1zM1152 395.6h1v3.8h-1zM1154 395.7h1v2.2h-1zM1156 389.2h1v0.7h-1zM1156 396.8h1v2.5h-1zM1160 382.6h1v4.0h-1zM1160 393.1h1v1.7h-1zM1162 387.1h1v1.3h-1zM1162 393.4h1v1.8h-1zM1170 389.5h1v5.3h-1zM1170 401.4h1v1.0h-1zM1173 396.9h1v3.4h-1zM1173 411.7h1v1.1h-1zM1175 403.2h1v2.4h-1zM1175 419.3h1v1.0h-1zM1177 418.3h1v1.9h-1zM1177 432.3h1v2.0h-1zM1182 428.8h1v0.4h-1zM1182 436.6h1v2.4h-1zM1191 448.6h1v2.0h-1zM1191 459.1h1v2.3h-1zM1193 457.4h1v1.9h-1zM1193 470.7h1v0.5h-1zM1195 467.6h1v1.5h-1zM1195 473.6h1v1.1h-1zM1206 460.2h1v2.2h-1zM1206 468.4h1v0.8h-1zM1210 448.4h1v8.0h-1zM1210 468.2h1v1.6h-1zM1212 468.8h1v1.1h-1zM1212 478.0h1v1.0h-1zM1224 479.6h1v1.1h-1zM1224 487.1h1v2.9h-1zM1244 481.9h1v0.7h-1zM1244 487.4h1v0.6h-1zM1247 488.6h1v1.3h-1zM1254 477.3h1v0.8h-1zM1254 482.3h1v0.5h-1zM1257 472.6h1v0.7h-1zM1257 482.5h1v0.9h-1zM1260 465.5h1v0.3h-1zM1260 471.5h1v3.0h-1zM1268 462.4h1v1.3h-1zM1268 469.9h1v0.9h-1zM1270 465.9h1v1.7h-1zM1270 473.6h1v2.9h-1zM1272 472.0h1v0.4h-1zM1272 476.7h1v1.9h-1zM1277 466.4h1v1.8h-1zM1277 472.7h1v1.1h-1zM1283 448.5h1v1.0h-1zM1283 455.8h1v2.4h-1zM1285 450.3h1v2.2h-1zM1285 456.3h1v0.3h-1zM1288 452.3h1v2.2h-1zM1288 459.7h1v2.3h-1zM1295 476.5h1v0.5h-1zM1295 482.4h1v0.9h-1zM1297 480.3h1v1.5h-1zM1297 486.7h1v1.4h-1zM1301 484.6h1v0.7h-1zM1301 490.8h1v0.8h-1zM1306 487.9h1v1.4h-1zM1310 479.7h1v0.8h-1zM1310 485.5h1v1.8h-1zM1312 479.8h1v1.7h-1zM1312 485.6h1v1.9h-1zM1314 484.3h1v1.9h-1zM1314 490.3h1v0.4h-1zM1317 493.9h1v1.3h-1zM1317 497.7h1v1.2h-1zM1319 497.8h1v0.4h-1zM1319 500.6h1v1.0h-1zM1325 501.3h1v0.8h-1zM1329 500.8h1v1.4h-1zM1329 505.6h1v1.1h-1zM1337 478.8h1v1.3h-1zM1340 470.2h1v0.3h-1zM1340 474.3h1v2.3h-1zM1342 470.4h1v1.0h-1zM1342 474.8h1v1.2h-1zM1345 473.3h1v0.7h-1zM1345 477.2h1v1.1h-1zM1351 481.6h1v0.4h-1zM1351 484.5h1v2.1h-1zM1357 488.1h1v0.5h-1zM1357 493.3h1v0.4h-1zM1360 488.9h1v0.7h-1zM1360 492.3h1v1.4h-1zM1363 491.3h1v1.2h-1zM1363 494.4h1v0.6h-1zM1367 488.7h1v2.2h-1zM1372 493.3h1v0.9h-1zM1372 497.5h1v0.8h-1zM1377 495.0h1v0.5h-1zM1377 499.4h1v0.7h-1zM1379 498.8h1v0.6h-1zM1379 503.4h1v0.9h-1zM1381 507.5h1v1.1h-1zM1389 512.3h1v1.2h-1zM1389 517.0h1v0.4h-1zM1398 522.6h1v0.9h-1zM1398 528.5h1v9.5h-1zM1405 528.9h1v1.0h-1zM1405 532.7h1v1.5h-1zM1416 517.1h1v0.5h-1zM1416 520.7h1v0.7h-1zM1419 518.4h1v2.1h-1zM1419 525.4h1v0.4h-1zM1423 523.3h1v1.5h-1zM1434 540.9h1v1.6h-1zM1434 549.9h1v5.7h-1zM1436 541.1h1v2.3h-1zM1436 550.7h1v1.7h-1zM1439 541.6h1v1.5h-1zM1439 550.9h1v2.3h-1zM1441 534.5h1v6.2h-1zM1441 546.2h1v0.8h-1zM1443 542.4h1v0.9h-1zM1443 549.2h1v2.3h-1zM1445 541.0h1v3.2h-1zM1445 551.4h1v1.2h-1zM1460 530.9h1v1.4h-1zM1460 540.0h1v0.3h-1z" fill="#f03a48" opacity="0.5"/>
<path d="M17 276.1h1v5.5h-1zM19 274.4h1v6.1h-1zM21 265.0h1v13.3h-1zM24 257.1h1v7.2h-1zM34 238.0h1v10.2h-1zM37 239.0h1v6.3h-1zM39 241.9h1v8.0h-1zM46 239.8h1v8.0h-1zM49 233.7h1v10.4h-1zM53 239.5h1v5.7h-1zM55 216.0h1v13.2h-1zM57 210.4h1v9.5h-1zM60 204.8h1v6.1h-1zM62 201.7h1v9.8h-1zM67 218.6h1v10.0h-1zM71 222.8h1v7.4h-1zM73 206.4h1v20.0h-1zM79 210.4h1v9.7h-1zM86 218.3h1v6.7h-1zM90 221.1h1v12.6h-1zM104 242.8h1v12.3h-1zM111 234.8h1v10.7h-1zM115 233.8h1v8.3h-1zM118 224.3h1v7.8h-1zM126 236.9h1v11.1h-1zM136 257.4h1v6.6h-1zM141 254.8h1v10.7h-1zM144 249.6h1v7.6h-1zM147 233.5h1v9.4h-1zM150 224.1h1v9.8h-1zM153 220.6h1v9.2h-1zM158 209.2h1v8.1h-1zM166 218.5h1v8.3h-1zM179 241.9h1v9.1h-1zM181 237.4h1v8.2h-1zM183 232.4h1v12.0h-1zM186 231.7h1v6.1h-1zM189 231.4h1v5.2h-1zM192 237.2h1v13.3h-1zM200 246.4h1v10.1h-1zM202 248.9h1v6.8h-1zM211 241.4h1v9.9h-1zM216 234.7h1v4.9h-1zM219 229.1h1v6.1h-1zM226 242.2h1v9.8h-1zM238 272.5h1v7.3h-1zM244 287.7h1v6.0h-1zM248 305.2h1v12.3h-1zM250 313.9h1v10.8h-1zM255 322.3h1v13.1h-1zM257 321.0h1v6.2h-1zM259 318.5h1v4.7h-1zM268 304.4h1v15.0h-1zM277 311.2h1v13.0h-1zM280 322.3h1v12.3h-1zM283 292.2h1v27.7h-1zM285 267.2h1v19.1h-1zM295 251.7h1v9.2h-1zM301 238.9h1v14.2h-1zM304 216.0h1v15.5h-1zM313 195.9h1v7.5h-1zM320 203.5h1v13.3h-1zM325 194.9h1v9.6h-1zM328 189.6h1v9.9h-1zM330 182.2h1v12.3h-1zM351 301.0h1v11.6h-1zM353 283.2h1v13.5h-1zM366 304.7h1v14.7h-1zM368 298.5h1v16.3h-1zM370 250.3h1v26.8h-1zM372 227.9h1v25.5h-1zM374 201.9h1v17.5h-1zM377 181.5h1v10.8h-1zM379 171.7h1v12.2h-1zM384 180.7h1v7.6h-1zM387 171.9h1v9.3h-1zM389 159.9h1v11.0h-1zM409 204.9h1v11.0h-1zM411 192.4h1v12.0h-1zM413 190.3h1v10.1h-1zM417 180.8h1v10.1h-1zM419 176.6h1v9.0h-1zM421 172.0h1v9.3h-1zM423 157.4h1v16.0h-1zM428 153.1h1v17.8h-1zM433 129.3h1v8.3h-1zM435 128.0h1v15.9h-1zM443 134.8h1v10.0h-1zM450 120.3h1v18.4h-1zM456 114.2h1v14.5h-1zM471 131.0h1v10.8h-1zM478 130.3h1v13.5h-1zM480 119.5h1v17.5h-1zM484 114.4h1v14.5h-1zM497 185.2h1v8.8h-1zM502 197.0h1v8.9h-1zM514 186.5h1v8.1h-1zM517 194.3h1v8.0h-1zM524 181.0h1v10.6h-1zM531 178.9h1v7.9h-1zM538 211.7h1v12.7h-1zM545 218.5h1v11.8h-1zM558 235.5h1v13.8h-1zM560 236.8h1v8.9h-1zM568 247.4h1v9.0h-1zM575 245.2h1v16.1h-1zM586 286.0h1v7.4h-1zM590 286.5h1v6.7h-1zM597 293.3h1v7.1h-1zM599 293.7h1v7.5h-1zM601 289.1h1v9.5h-1zM613 331.5h1v9.2h-1zM621 334.2h1v9.2h-1zM624 320.0h1v16.5h-1zM632 313.4h1v10.1h-1zM634 301.9h1v11.7h-1zM636 295.7h1v9.1h-1zM642 288.5h1v14.4h-1zM645 296.8h1v8.1h-1zM652 307.5h1v11.0h-1zM658 310.8h1v12.4h-1zM665 306.3h1v13.1h-1zM669 315.3h1v15.2h-1zM682 309.0h1v10.6h-1zM685 309.0h1v5.1h-1zM689 271.5h1v14.4h-1zM697 254.8h1v11.3h-1zM699 254.5h1v10.6h-1zM704 242.1h1v6.5h-1zM706 237.7h1v8.6h-1zM711 239.5h1v8.5h-1zM721 251.3h1v11.6h-1zM727 269.7h1v7.2h-1zM741 303.8h1v11.6h-1zM743 293.4h1v15.0h-1zM745 286.8h1v13.4h-1zM750 303.5h1v7.8h-1zM757 308.8h1v12.8h-1zM760 306.7h1v9.2h-1zM762 302.3h1v11.3h-1zM780 336.4h1v11.5h-1zM782 319.5h1v13.9h-1zM786 296.9h1v13.1h-1zM788 288.7h1v16.5h-1zM791 265.4h1v8.7h-1zM797 264.9h1v12.3h-1zM808 290.0h1v6.7h-1zM811 297.2h1v8.5h-1zM814 304.3h1v11.2h-1zM821 318.6h1v16.9h-1zM828 357.4h1v7.9h-1zM836 392.1h1v11.2h-1zM839 377.2h1v10.3h-1zM845 384.4h1v6.3h-1zM850 381.9h1v6.8h-1zM852 378.1h1v10.0h-1zM855 376.8h1v12.6h-1zM857 371.3h1v10.4h-1zM864 393.1h1v8.1h-1zM867 380.7h1v10.8h-1zM877 414.2h1v7.5h-1zM881 421.4h1v10.9h-1zM884 424.7h1v12.4h-1zM888 425.3h1v9.8h-1zM890 431.3h1v10.2h-1zM898 445.5h1v7.5h-1zM903 415.6h1v9.7h-1zM905 406.2h1v10.3h-1zM916 423.2h1v11.0h-1zM922 424.2h1v7.3h-1zM924 431.1h1v5.6h-1zM926 424.0h1v11.4h-1zM932 416.3h1v13.4h-1zM934 408.4h1v15.9h-1zM939 403.6h1v13.9h-1zM942 405.4h1v12.1h-1zM947 421.1h1v10.5h-1zM949 413.5h1v10.5h-1zM951 403.1h1v6.8h-1zM954 395.8h1v11.9h-1zM959 378.3h1v12.2h-1zM962 378.3h1v14.6h-1zM969 372.0h1v13.5h-1zM971 367.5h1v6.4h-1zM975 351.3h1v9.2h-1zM977 342.1h1v8.7h-1zM981 335.4h1v11.1h-1zM983 332.5h1v8.1h-1zM989 328.6h1v15.2h-1zM994 340.0h1v9.0h-1zM999 346.4h1v8.0h-1zM1019 379.7h1v6.0h-1zM1022 372.5h1v11.9h-1zM1024 375.0h1v6.2h-1zM1027 368.2h1v12.4h-1zM1029 367.0h1v11.2h-1zM1031 365.0h1v8.4h-1zM1036 375.7h1v10.3h-1zM1038 373.9h1v10.7h-1zM1040 369.6h1v9.9h-1zM1059 401.3h1v7.6h-1zM1062 391.8h1v11.2h-1zM1064 386.1h1v15.3h-1zM1066 382.8h1v6.0h-1zM1068 377.4h1v6.7h-1zM1070 370.5h1v9.1h-1zM1076 355.3h1v6.1h-1zM1092 381.2h1v6.9h-1zM1094 381.5h1v5.5h-1zM1109 406.5h1v9.5h-1zM1116 409.2h1v8.2h-1zM1120 409.6h1v7.5h-1zM1123 406.1h1v11.8h-1zM1134 405.8h1v12.0h-1zM1139 394.1h1v8.2h-1zM1143 389.4h1v7.5h-1zM1145 387.2h1v6.4h-1zM1148 386.5h1v8.7h-1zM1150 389.9h1v5.7h-1zM1158 386.9h1v5.4h-1zM1164 388.3h1v6.4h-1zM1167 385.3h1v11.5h-1zM1179 427.8h1v5.8h-1zM1185 435.8h1v10.2h-1zM1187 444.5h1v7.8h-1zM1189 446.6h1v5.9h-1zM1198 473.6h1v8.8h-1zM1200 474.3h1v6.0h-1zM1202 464.9h1v11.4h-1zM1204 465.3h1v5.3h-1zM1208 452.1h1v6.1h-1zM1215 483.0h1v6.4h-1zM1217 483.3h1v5.6h-1zM1219 482.1h1v6.3h-1zM1222 479.4h1v9.6h-1zM1227 461.8h1v9.4h-1zM1230 460.3h1v2.9h-1zM1233 464.1h1v10.5h-1zM1235 465.6h1v4.8h-1zM1238 470.5h1v5.2h-1zM1241 476.4h1v4.4h-1zM1249 479.8h1v5.3h-1zM1251 481.6h1v3.5h-1zM1262 465.3h1v5.6h-1zM1264 462.8h1v6.4h-1zM1266 460.6h1v7.3h-1zM1275 467.2h1v6.5h-1zM1279 465.1h1v4.9h-1zM1281 455.1h1v11.3h-1zM1290 462.8h1v3.8h-1zM1292 468.7h1v3.6h-1zM1299 484.8h1v3.1h-1zM1304 483.3h1v3.3h-1zM1308 480.2h1v4.1h-1zM1322 499.4h1v5.2h-1zM1327 500.4h1v2.7h-1zM1332 493.7h1v4.5h-1zM1334 486.9h1v4.9h-1zM1348 477.9h1v2.7h-1zM1354 485.2h1v5.7h-1zM1365 487.9h1v2.7h-1zM1369 492.8h1v3.4h-1zM1375 496.2h1v3.6h-1zM1383 505.9h1v2.2h-1zM1385 504.0h1v6.1h-1zM1387 508.5h1v2.4h-1zM1392 516.3h1v4.4h-1zM1395 521.5h1v3.5h-1zM1400 527.3h1v3.4h-1zM1403 528.9h1v4.7h-1zM1408 525.0h1v4.0h-1zM1411 522.7h1v4.2h-1zM1414 514.6h1v5.4h-1zM1421 521.8h1v5.8h-1zM1425 533.7h1v7.5h-1zM1427 540.3h1v3.6h-1zM1429 538.2h1v3.1h-1zM1431 537.7h1v10.5h-1zM1448 552.7h1v3.6h-1zM1450 544.8h1v6.7h-1zM1452 538.5h1v4.6h-1zM1454 533.7h1v8.2h-1zM1456 534.9h1v4.7h-1zM1458 532.0h1v3.4h-1z" fill="#0b9a82"/>
<path d="M5 259.6h1v8.7h-1zM8 263.6h1v8.6h-1zM10 269.1h1v5.8h-1zM12 271.1h1v12.6h-1zM14 265.9h1v12.5h-1zM27 241.8h1v8.3h-1zM29 237.2h1v11.9h-1zM32 239.2h1v9.7h-1zM42 235.9h1v11.6h-1zM44 243.7h1v5.9h-1zM51 231.3h1v7.8h-1zM65 206.0h1v23.2h-1zM69 221.5h1v7.5h-1zM75 211.3h1v8.1h-1zM77 209.2h1v7.8h-1zM81 203.3h1v8.6h-1zM83 215.8h1v6.2h-1zM88 216.8h1v11.1h-1zM93 224.2h1v6.2h-1zM95 231.3h1v8.8h-1zM97 243.1h1v8.7h-1zM99 244.7h1v6.5h-1zM102 239.2h1v7.0h-1zM106 241.9h1v6.1h-1zM108 238.1h1v5.4h-1zM113 235.9h1v11.2h-1zM121 232.9h1v7.3h-1zM124 232.0h1v4.0h-1zM128 240.9h1v10.1h-1zM130 247.2h1v7.0h-1zM132 248.4h1v11.6h-1zM134 252.5h1v9.1h-1zM138 257.3h1v6.7h-1zM156 212.9h1v7.9h-1zM160 210.5h1v10.4h-1zM162 212.2h1v10.9h-1zM164 223.9h1v4.9h-1zM168 225.0h1v4.9h-1zM170 222.8h1v6.6h-1zM172 224.7h1v12.8h-1zM175 228.1h1v12.6h-1zM177 236.7h1v8.1h-1zM194 238.5h1v6.5h-1zM197 241.6h1v19.4h-1zM204 245.8h1v5.7h-1zM206 246.1h1v10.6h-1zM209 243.6h1v7.2h-1zM214 233.9h1v9.2h-1zM221 228.1h1v11.5h-1zM224 227.9h1v9.9h-1zM229 243.5h1v12.0h-1zM232 252.9h1v9.0h-1zM235 269.1h1v8.9h-1zM241 285.2h1v8.9h-1zM246 289.7h1v15.2h-1zM252 326.0h1v7.5h-1zM262 315.4h1v8.0h-1zM264 315.4h1v13.9h-1zM266 313.5h1v10.2h-1zM271 303.8h1v7.8h-1zM274 305.8h1v7.2h-1zM288 256.3h1v10.4h-1zM291 255.1h1v7.0h-1zM293 253.8h1v11.2h-1zM298 246.2h1v12.9h-1zM306 202.8h1v9.5h-1zM309 206.0h1v9.8h-1zM311 198.5h1v9.3h-1zM315 193.1h1v8.3h-1zM317 198.4h1v10.7h-1zM322 198.9h1v6.6h-1zM332 192.5h1v20.5h-1zM335 196.0h1v15.0h-1zM337 211.4h1v10.4h-1zM340 228.8h1v16.8h-1zM342 240.7h1v12.7h-1zM345 253.7h1v28.1h-1zM348 302.7h1v16.8h-1zM356 277.8h1v13.6h-1zM358 287.7h1v16.2h-1zM360 307.4h1v16.7h-1zM363 336.3h1v10.7h-1zM382 169.2h1v18.2h-1zM392 163.3h1v21.0h-1zM394 164.8h1v11.0h-1zM397 179.5h1v9.9h-1zM399 180.4h1v17.1h-1zM402 164.2h1v18.2h-1zM404 191.3h1v18.0h-1zM406 204.5h1v8.9h-1zM415 189.6h1v11.6h-1zM425 155.8h1v18.7h-1zM430 149.4h1v11.5h-1zM437 133.7h1v14.6h-1zM440 131.1h1v16.1h-1zM445 139.7h1v9.2h-1zM447 121.9h1v10.3h-1zM453 113.3h1v12.5h-1zM458 97.6h1v12.3h-1zM460 103.0h1v11.7h-1zM462 114.3h1v16.5h-1zM465 112.8h1v20.2h-1zM468 125.4h1v10.3h-1zM473 126.4h1v14.1h-1zM476 133.4h1v9.5h-1zM482 113.3h1v16.0h-1zM486 123.0h1v15.3h-1zM489 134.5h1v11.5h-1zM491 150.4h1v12.6h-1zM494 165.1h1v17.4h-1zM499 185.8h1v6.2h-1zM504 185.6h1v17.2h-1zM507 190.7h1v11.3h-1zM510 188.7h1v10.3h-1zM512 190.3h1v12.8h-1zM519 179.3h1v12.1h-1zM521 181.6h1v11.4h-1zM527 180.7h1v14.2h-1zM529 172.7h1v12.3h-1zM533 181.6h1v14.7h-1zM535 200.9h1v20.0h-1zM540 213.1h1v5.8h-1zM543 216.6h1v16.8h-1zM548 222.2h1v16.4h-1zM551 236.5h1v5.0h-1zM554 239.5h1v11.1h-1zM556 241.7h1v13.2h-1zM563 231.9h1v14.0h-1zM566 244.0h1v12.8h-1zM570 250.1h1v8.1h-1zM572 250.5h1v7.6h-1zM578 242.8h1v5.4h-1zM581 259.8h1v10.7h-1zM583 275.3h1v10.8h-1zM588 283.3h1v14.0h-1zM592 292.4h1v8.9h-1zM594 287.5h1v8.4h-1zM603 289.7h1v9.2h-1zM605 295.0h1v17.7h-1zM607 311.3h1v9.7h-1zM610 318.8h1v11.7h-1zM615 330.8h1v12.7h-1zM617 328.9h1v15.1h-1zM619 329.5h1v11.2h-1zM626 313.3h1v6.8h-1zM628 317.5h1v9.1h-1zM630 313.5h1v11.5h-1zM638 297.3h1v6.2h-1zM640 303.1h1v11.1h-1zM647 295.9h1v8.0h-1zM650 300.5h1v12.3h-1zM655 317.8h1v9.4h-1zM660 308.0h1v8.1h-1zM662 308.5h1v14.3h-1zM667 307.1h1v14.3h-1zM672 319.2h1v10.9h-1zM674 321.0h1v6.7h-1zM677 324.0h1v11.5h-1zM679 326.3h1v7.5h-1zM687 285.5h1v11.3h-1zM692 264.9h1v9.0h-1zM695 251.4h1v14.2h-1zM702 245.1h1v12.7h-1zM709 237.8h1v7.9h-1zM714 244.0h1v13.8h-1zM717 245.2h1v10.8h-1zM719 245.6h1v9.3h-1zM723 257.5h1v9.6h-1zM725 261.1h1v7.8h-1zM730 274.7h1v12.8h-1zM733 274.7h1v9.8h-1zM736 288.5h1v15.0h-1zM739 302.3h1v15.5h-1zM748 301.4h1v7.2h-1zM752 302.7h1v13.2h-1zM755 305.9h1v14.5h-1zM764 297.9h1v14.2h-1zM766 300.4h1v17.4h-1zM768 307.8h1v9.2h-1zM770 306.1h1v11.5h-1zM772 316.2h1v6.5h-1zM775 319.7h1v9.6h-1zM777 333.2h1v11.2h-1zM784 311.7h1v11.2h-1zM793 267.0h1v6.9h-1zM795 260.2h1v8.2h-1zM799 265.4h1v10.4h-1zM801 272.0h1v10.1h-1zM803 279.6h1v9.8h-1zM805 287.9h1v5.8h-1zM816 308.3h1v15.3h-1zM819 318.2h1v5.5h-1zM823 331.2h1v15.6h-1zM826 342.6h1v14.6h-1zM831 366.8h1v17.6h-1zM833 384.3h1v17.2h-1zM842 374.4h1v18.4h-1zM847 387.2h1v7.3h-1zM859 366.9h1v19.7h-1zM861 389.4h1v14.0h-1zM869 383.0h1v6.8h-1zM871 389.4h1v13.5h-1zM873 403.9h1v10.7h-1zM875 412.2h1v7.2h-1zM879 419.8h1v5.0h-1zM886 425.2h1v9.5h-1zM893 434.0h1v8.3h-1zM895 438.3h1v8.9h-1zM901 422.5h1v14.1h-1zM908 402.9h1v7.4h-1zM910 410.7h1v9.1h-1zM913 426.9h1v9.6h-1zM919 420.6h1v11.4h-1zM929 419.4h1v8.5h-1zM937 403.4h1v5.0h-1zM944 409.0h1v9.3h-1zM956 387.3h1v16.5h-1zM964 374.3h1v10.9h-1zM967 376.7h1v7.2h-1zM973 358.5h1v8.6h-1zM979 345.3h1v10.0h-1zM986 331.4h1v10.4h-1zM992 337.3h1v7.1h-1zM996 339.2h1v12.4h-1zM1002 347.5h1v13.3h-1zM1005 338.7h1v8.3h-1zM1007 337.8h1v14.4h-1zM1009 350.8h1v6.1h-1zM1012 349.3h1v9.3h-1zM1015 360.7h1v9.9h-1zM1017 371.2h1v9.6h-1zM1034 371.9h1v11.1h-1zM1043 377.7h1v12.2h-1zM1045 382.4h1v7.4h-1zM1048 390.7h1v8.4h-1zM1051 398.8h1v9.9h-1zM1054 399.7h1v7.7h-1zM1056 395.1h1v12.0h-1zM1073 368.7h1v6.9h-1zM1078 359.8h1v13.6h-1zM1081 369.8h1v8.4h-1zM1083 373.3h1v6.7h-1zM1086 376.9h1v14.0h-1zM1089 376.1h1v6.5h-1zM1097 384.9h1v10.5h-1zM1099 388.7h1v11.2h-1zM1101 397.3h1v5.8h-1zM1104 406.2h1v5.7h-1zM1106 405.4h1v6.2h-1zM1111 408.2h1v9.8h-1zM1113 408.2h1v6.0h-1zM1118 408.0h1v12.8h-1zM1126 410.2h1v6.8h-1zM1129 412.1h1v5.8h-1zM1131 409.3h1v6.1h-1zM1136 403.6h1v5.7h-1zM1141 395.2h1v5.8h-1zM1152 388.7h1v6.9h-1zM1154 386.3h1v9.3h-1zM1156 390.0h1v6.9h-1zM1160 386.6h1v6.5h-1zM1162 388.5h1v4.9h-1zM1170 394.7h1v6.6h-1zM1173 400.3h1v11.4h-1zM1175 405.6h1v13.7h-1zM1177 420.2h1v12.1h-1zM1182 429.2h1v7.4h-1zM1191 450.6h1v8.5h-1zM1193 459.3h1v11.4h-1zM1195 469.2h1v4.4h-1zM1206 462.5h1v5.9h-1zM1210 456.5h1v11.7h-1zM1212 470.0h1v8.0h-1zM1224 480.7h1v6.3h-1zM1244 482.6h1v4.8h-1zM1247 480.6h1v8.0h-1zM1254 478.1h1v4.2h-1zM1257 473.3h1v9.2h-1zM1260 465.8h1v5.7h-1zM1268 463.7h1v6.2h-1zM1270 467.7h1v5.9h-1zM1272 472.5h1v4.2h-1zM1277 468.2h1v4.5h-1zM1283 449.5h1v6.4h-1zM1285 452.5h1v3.9h-1zM1288 454.5h1v5.2h-1zM1295 477.0h1v5.4h-1zM1297 481.8h1v5.0h-1zM1301 485.3h1v5.5h-1zM1306 483.9h1v4.0h-1zM1310 480.5h1v5.0h-1zM1312 481.5h1v4.0h-1zM1314 486.2h1v4.1h-1zM1317 495.2h1v2.6h-1zM1319 498.2h1v2.3h-1zM1325 502.1h1v3.6h-1zM1329 502.2h1v3.4h-1zM1337 475.0h1v3.9h-1zM1340 470.5h1v3.8h-1zM1342 471.5h1v3.3h-1zM1345 474.1h1v3.2h-1zM1351 482.0h1v2.5h-1zM1357 488.6h1v4.8h-1zM1360 489.7h1v2.7h-1zM1363 492.5h1v1.9h-1zM1367 490.9h1v2.6h-1zM1372 494.2h1v3.4h-1zM1377 495.5h1v3.8h-1zM1379 499.4h1v4.0h-1zM1381 503.9h1v3.6h-1zM1389 513.5h1v3.5h-1zM1398 523.5h1v5.0h-1zM1405 529.8h1v2.8h-1zM1416 517.5h1v3.2h-1zM1419 520.5h1v4.9h-1zM1423 524.8h1v6.7h-1zM1434 542.5h1v7.4h-1zM1436 543.4h1v7.3h-1zM1439 543.1h1v7.8h-1zM1441 540.7h1v5.5h-1zM1443 543.3h1v5.9h-1zM1445 544.2h1v7.2h-1zM1460 532.3h1v7.7h-1z" fill="#f03a48"/>
</g>
<rect x="108.0" y="6" width="1" height="17" fill="#e3e4e8"/>
<rect x="143.0" y="6" width="1" height="17" fill="#e3e4e8"/>
<rect x="178.8" y="6" width="1" height="17" fill="#e3e4e8"/>
<rect x="293.9" y="6" width="1" height="17" fill="#e3e4e8"/>
<rect x="423.0" y="6" width="1" height="17" fill="#e3e4e8"/>
<text x="24" y="18" font-size="10.8" fill="#131722" font-weight="normal" text-anchor="start" textLength="31.2" lengthAdjust="spacingAndGlyphs" stroke="#131722" stroke-width="0.55">GER30</text>
<text x="119.0" y="18" font-size="11" fill="#131722" font-weight="normal" text-anchor="start" textLength="14.6" lengthAdjust="spacingAndGlyphs" stroke="#131722" stroke-width="0.25">1m</text>
<text x="208.9" y="18" font-size="11" fill="#131722" font-weight="normal" text-anchor="start" textLength="46" lengthAdjust="spacingAndGlyphs" stroke="#131722" stroke-width="0.25">Indicators</text>
<text x="324.5" y="18" font-size="11" fill="#131722" font-weight="normal" text-anchor="start" textLength="22.8" lengthAdjust="spacingAndGlyphs" stroke="#131722" stroke-width="0.25">Alert</text>
<text x="381.6" y="18" font-size="11" fill="#131722" font-weight="normal" text-anchor="start" textLength="30.4" lengthAdjust="spacingAndGlyphs" stroke="#131722" stroke-width="0.25">Replay</text>
<g fill="none" stroke="#2e2e33" stroke-width="1.2" stroke-linecap="round"><circle cx="14.5" cy="13.7" r="4.1"/><path d="M17.6 16.9L20.6 19.6"/></g>
<g fill="none" stroke="#2e2e33" stroke-width="1"><circle cx="89.8" cy="14.7" r="6.6"/><path d="M89.8 11.5v6.4M86.6 14.7h6.4"/></g>
<g stroke="#2e2e33" stroke-width="1" fill="none"><path d="M158.8 7.2v2.1M158.8 19v2M165.1 9.3v1.7M165.1 17.7v2.2"/><rect x="157.3" y="9.3" width="3" height="9.7" fill="#6a6d75"/><rect x="163.6" y="11" width="3" height="6.7"/></g>
<g stroke="#2e2e33" stroke-width="1" fill="none" stroke-linejoin="round" stroke-linecap="round"><path d="M190.4 12.5L194 9.3Q194.8 8.8 195.5 9.4L197 11.1Q197.7 11.7 198.5 11.2L203 8.1"/><path d="M190.5 20.4V18.4Q190.5 17.5 191.4 17.5H193.4V16.3Q193.4 15.4 194.3 15.4H195.8Q196.7 15.4 196.7 16.3V17.5H199.5V14.2Q199.5 13.3 200.4 13.3H202Q202.9 13.3 202.9 14.2V20.4Z M193.4 17.5V20.4M196.7 17.5V20.4M199.5 17.5V20.4"/></g>
<g stroke="#55585f" stroke-width="1.1" fill="none"><rect x="270.4" y="8.5" width="5.2" height="5" rx="1.9"/><rect x="270.4" y="15.3" width="5.2" height="5" rx="1.9"/><rect x="277.2" y="8.5" width="5.2" height="5" rx="1.9"/><rect x="277.2" y="15.3" width="5.2" height="5" rx="1.9"/></g>
<g stroke="#2e2e33" stroke-width="1" fill="none" stroke-linecap="round"><path d="M317.9 14.3A5.8 5.8 0 1 0 312.2 20.3"/><path d="M312.5 11.2v3.3h-2.9"/><path d="M305.1 10.5L307.6 7.7M319.3 10.5L316.5 7.7"/><path d="M316.4 16.2v6.4M313.2 19.4h6.4"/></g>
<g stroke="#2e2e33" stroke-width="1" fill="none" stroke-linejoin="round"><path d="M369.6 10.6V18.6L364.6 14.6Z"/><path d="M375.6 10.4V18.8L370.4 14.6Z"/></g>
<g stroke="#2e2e33" stroke-width="1.1" fill="none" stroke-linecap="round" stroke-linejoin="round"><path d="M438 10.6L435.4 13.5L438 16.4"/><path d="M435.6 13.5H441.5Q444.8 13.5 444.8 17.8"/></g>
<g stroke="#c4c6cc" stroke-width="1.1" fill="none" stroke-linecap="round" stroke-linejoin="round"><path d="M471.3 10.6L473.9 13.5L471.3 16.4"/><path d="M473.7 13.5H467.8Q464.5 13.5 464.5 17.8"/></g>
<rect x="1488.5" y="35.5" width="47" height="19" rx="3" fill="#fff" stroke="#ececee" stroke-width="1"/>
<text x="1491.8" y="48.1" font-size="8.4" fill="#131722" font-weight="normal" text-anchor="start" textLength="16" lengthAdjust="spacingAndGlyphs" stroke="#131722" stroke-width="0.3">EUR</text>
<path d="M1528.2 44.1L1530.6 45.8L1533 44.1" stroke="#2e2e33" stroke-width="1.2" fill="none"/>
<g opacity="0.995">
<text x="1491.8" y="64.3" font-size="9.8" fill="#303034" font-weight="normal" text-anchor="start" textLength="39.6" lengthAdjust="spacingAndGlyphs" stroke="#303034" stroke-width="0.15" text-rendering="geometricPrecision">22,240.00</text>
<text x="1491.8" y="96.0" font-size="9.8" fill="#303034" font-weight="normal" text-anchor="start" textLength="39.6" lengthAdjust="spacingAndGlyphs" stroke="#303034" stroke-width="0.15" text-rendering="geometricPrecision">22,200.00</text>
<text x="1491.8" y="127.38" font-size="9.8" fill="#303034" font-weight="normal" text-anchor="start" textLength="39.6" lengthAdjust="spacingAndGlyphs" stroke="#303034" stroke-width="0.15" text-rendering="geometricPrecision">22,160.00</text>
<text x="1491.8" y="158.75" font-size="9.8" fill="#303034" font-weight="normal" text-anchor="start" textLength="39.6" lengthAdjust="spacingAndGlyphs" stroke="#303034" stroke-width="0.15" text-rendering="geometricPrecision">22,120.00</text>
<text x="1491.8" y="190.12" font-size="9.8" fill="#303034" font-weight="normal" text-anchor="start" textLength="39.6" lengthAdjust="spacingAndGlyphs" stroke="#303034" stroke-width="0.15" text-rendering="geometricPrecision">22,080.00</text>
<text x="1491.8" y="221.5" font-size="9.8" fill="#303034" font-weight="normal" text-anchor="start" textLength="39.6" lengthAdjust="spacingAndGlyphs" stroke="#303034" stroke-width="0.15" text-rendering="geometricPrecision">22,040.00</text>
<text x="1491.8" y="252.88" font-size="9.8" fill="#303034" font-weight="normal" text-anchor="start" textLength="39.6" lengthAdjust="spacingAndGlyphs" stroke="#303034" stroke-width="0.15" text-rendering="geometricPrecision">22,000.00</text>
<text x="1491.8" y="284.25" font-size="9.8" fill="#303034" font-weight="normal" text-anchor="start" textLength="39.6" lengthAdjust="spacingAndGlyphs" stroke="#303034" stroke-width="0.15" text-rendering="geometricPrecision">21,960.00</text>
<text x="1491.8" y="315.62" font-size="9.8" fill="#303034" font-weight="normal" text-anchor="start" textLength="39.6" lengthAdjust="spacingAndGlyphs" stroke="#303034" stroke-width="0.15" text-rendering="geometricPrecision">21,920.00</text>
<text x="1491.8" y="347.0" font-size="9.8" fill="#303034" font-weight="normal" text-anchor="start" textLength="39.6" lengthAdjust="spacingAndGlyphs" stroke="#303034" stroke-width="0.15" text-rendering="geometricPrecision">21,880.00</text>
<text x="1491.8" y="378.38" font-size="9.8" fill="#303034" font-weight="normal" text-anchor="start" textLength="39.6" lengthAdjust="spacingAndGlyphs" stroke="#303034" stroke-width="0.15" text-rendering="geometricPrecision">21,840.00</text>
<text x="1491.8" y="409.75" font-size="9.8" fill="#303034" font-weight="normal" text-anchor="start" textLength="39.6" lengthAdjust="spacingAndGlyphs" stroke="#303034" stroke-width="0.15" text-rendering="geometricPrecision">21,800.00</text>
<text x="1491.8" y="441.12" font-size="9.8" fill="#303034" font-weight="normal" text-anchor="start" textLength="39.6" lengthAdjust="spacingAndGlyphs" stroke="#303034" stroke-width="0.15" text-rendering="geometricPrecision">21,760.00</text>
<text x="1491.8" y="472.5" font-size="9.8" fill="#303034" font-weight="normal" text-anchor="start" textLength="39.6" lengthAdjust="spacingAndGlyphs" stroke="#303034" stroke-width="0.15" text-rendering="geometricPrecision">21,720.00</text>
<text x="1491.8" y="503.88" font-size="9.8" fill="#303034" font-weight="normal" text-anchor="start" textLength="39.6" lengthAdjust="spacingAndGlyphs" stroke="#303034" stroke-width="0.15" text-rendering="geometricPrecision">21,680.00</text>
<text x="1491.8" y="535.25" font-size="9.8" fill="#303034" font-weight="normal" text-anchor="start" textLength="39.6" lengthAdjust="spacingAndGlyphs" stroke="#303034" stroke-width="0.15" text-rendering="geometricPrecision">21,640.00</text>
<text x="1491.8" y="566.62" font-size="9.8" fill="#303034" font-weight="normal" text-anchor="start" textLength="39.6" lengthAdjust="spacingAndGlyphs" stroke="#303034" stroke-width="0.15" text-rendering="geometricPrecision">21,600.00</text>
<text x="1491.8" y="598.0" font-size="9.8" fill="#303034" font-weight="normal" text-anchor="start" textLength="39.6" lengthAdjust="spacingAndGlyphs" stroke="#303034" stroke-width="0.15" text-rendering="geometricPrecision">21,560.00</text>
<text x="25.45" y="632" font-size="9.9" fill="#303034" font-weight="normal" text-anchor="start" textLength="21.9" lengthAdjust="spacingAndGlyphs" stroke="#303034" stroke-width="0.15" text-rendering="geometricPrecision">22:00</text>
<text x="72.65" y="632" font-size="9.9" fill="#303034" font-weight="normal" text-anchor="start" textLength="21.9" lengthAdjust="spacingAndGlyphs" stroke="#303034" stroke-width="0.15" text-rendering="geometricPrecision">23:00</text>
<text x="201.05" y="632" font-size="9.9" fill="#303034" font-weight="normal" text-anchor="start" textLength="21.9" lengthAdjust="spacingAndGlyphs" stroke="#303034" stroke-width="0.15" text-rendering="geometricPrecision">01:00</text>
<text x="268.65" y="632" font-size="9.9" fill="#303034" font-weight="normal" text-anchor="start" textLength="21.9" lengthAdjust="spacingAndGlyphs" stroke="#303034" stroke-width="0.15" text-rendering="geometricPrecision">02:00</text>
<text x="336.25" y="632" font-size="9.9" fill="#303034" font-weight="normal" text-anchor="start" textLength="21.9" lengthAdjust="spacingAndGlyphs" stroke="#303034" stroke-width="0.15" text-rendering="geometricPrecision">03:00</text>
<text x="403.85" y="632" font-size="9.9" fill="#303034" font-weight="normal" text-anchor="start" textLength="21.9" lengthAdjust="spacingAndGlyphs" stroke="#303034" stroke-width="0.15" text-rendering="geometricPrecision">04:00</text>
<text x="471.45" y="632" font-size="9.9" fill="#303034" font-weight="normal" text-anchor="start" textLength="21.9" lengthAdjust="spacingAndGlyphs" stroke="#303034" stroke-width="0.15" text-rendering="geometricPrecision">05:00</text>
<text x="539.05" y="632" font-size="9.9" fill="#303034" font-weight="normal" text-anchor="start" textLength="21.9" lengthAdjust="spacingAndGlyphs" stroke="#303034" stroke-width="0.15" text-rendering="geometricPrecision">06:00</text>
<text x="606.65" y="632" font-size="9.9" fill="#303034" font-weight="normal" text-anchor="start" textLength="21.9" lengthAdjust="spacingAndGlyphs" stroke="#303034" stroke-width="0.15" text-rendering="geometricPrecision">07:00</text>
<text x="674.25" y="632" font-size="9.9" fill="#303034" font-weight="normal" text-anchor="start" textLength="21.9" lengthAdjust="spacingAndGlyphs" stroke="#303034" stroke-width="0.15" text-rendering="geometricPrecision">08:00</text>
<text x="741.85" y="632" font-size="9.9" fill="#303034" font-weight="normal" text-anchor="start" textLength="21.9" lengthAdjust="spacingAndGlyphs" stroke="#303034" stroke-width="0.15" text-rendering="geometricPrecision">09:00</text>
<text x="809.45" y="632" font-size="9.9" fill="#303034" font-weight="normal" text-anchor="start" textLength="21.9" lengthAdjust="spacingAndGlyphs" stroke="#303034" stroke-width="0.15" text-rendering="geometricPrecision">10:00</text>
<text x="877.05" y="632" font-size="9.9" fill="#303034" font-weight="normal" text-anchor="start" textLength="21.9" lengthAdjust="spacingAndGlyphs" stroke="#303034" stroke-width="0.15" text-rendering="geometricPrecision">11:00</text>
<text x="944.65" y="632" font-size="9.9" fill="#303034" font-weight="normal" text-anchor="start" textLength="21.9" lengthAdjust="spacingAndGlyphs" stroke="#303034" stroke-width="0.15" text-rendering="geometricPrecision">12:00</text>
<text x="1012.45" y="632" font-size="9.9" fill="#303034" font-weight="normal" text-anchor="start" textLength="21.9" lengthAdjust="spacingAndGlyphs" stroke="#303034" stroke-width="0.15" text-rendering="geometricPrecision">13:00</text>
<text x="1080.45" y="632" font-size="9.9" fill="#303034" font-weight="normal" text-anchor="start" textLength="21.9" lengthAdjust="spacingAndGlyphs" stroke="#303034" stroke-width="0.15" text-rendering="geometricPrecision">14:00</text>
<text x="1148.05" y="632" font-size="9.9" fill="#303034" font-weight="normal" text-anchor="start" textLength="21.9" lengthAdjust="spacingAndGlyphs" stroke="#303034" stroke-width="0.15" text-rendering="geometricPrecision">15:00</text>
<text x="1215.65" y="632" font-size="9.9" fill="#303034" font-weight="normal" text-anchor="start" textLength="21.9" lengthAdjust="spacingAndGlyphs" stroke="#303034" stroke-width="0.15" text-rendering="geometricPrecision">20:31</text>
<text x="1314.65" y="632" font-size="9.9" fill="#303034" font-weight="normal" text-anchor="start" textLength="21.9" lengthAdjust="spacingAndGlyphs" stroke="#303034" stroke-width="0.15" text-rendering="geometricPrecision">22:00</text>
<text x="1380.65" y="632" font-size="9.9" fill="#303034" font-weight="normal" text-anchor="start" textLength="21.9" lengthAdjust="spacingAndGlyphs" stroke="#303034" stroke-width="0.15" text-rendering="geometricPrecision">23:00</text>
<text x="145.3" y="632" font-size="9.9" fill="#303034" font-weight="normal" text-anchor="start" textLength="4.9" lengthAdjust="spacingAndGlyphs" stroke="#303034" stroke-width="0.15" text-rendering="geometricPrecision">3</text>
<text x="1455.5" y="632" font-size="9.9" fill="#131722" font-weight="bold" text-anchor="start" textLength="5.3" lengthAdjust="spacingAndGlyphs" text-rendering="geometricPrecision">4</text>
</g>
<g fill="none" stroke="#a738b8" stroke-width="1.2"><circle cx="1460.7" cy="608.5" r="7.4"/></g><path d="M1463 604.3L1457.2 609.3H1460.3L1458.3 612.9L1464.1 607.8H1461.1Z" fill="#a738b8"/>
<g fill="none" stroke="#2e2e33" stroke-width="1"><path d="M1507 628.9L1509.7 624.3H1515.1L1517.8 628.9L1515.1 633.5H1509.7Z"/><circle cx="1512.4" cy="628.9" r="1.6"/></g>
<g fill="#131722"><path d="M13 596.2H21.8V607.6H17.3V600.7H13Z"/><circle cx="25.75" cy="598.4" r="2.05"/><path d="M29.3 596.2H35.5L31.3 607.6H26.1Z"/></g>
<text x="41" y="607.6" font-size="15.8" fill="#15171e" font-weight="bold" text-anchor="start" textLength="90.3" lengthAdjust="spacingAndGlyphs">TradingView</text>
</svg>
</body></html>
